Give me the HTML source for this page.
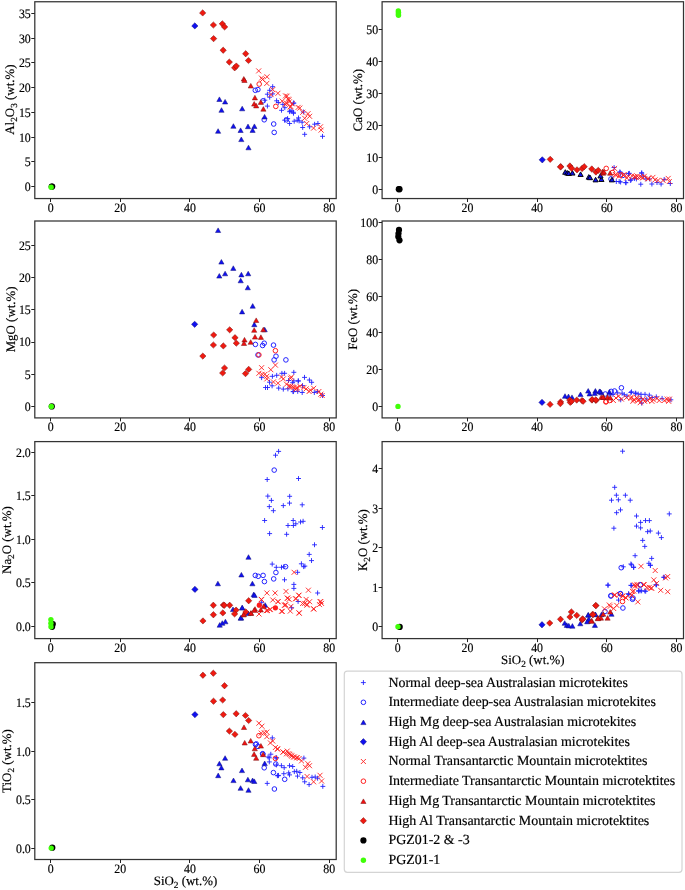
<!DOCTYPE html>
<html><head><meta charset="utf-8"><style>
html,body{margin:0;padding:0;background:#fff;width:685px;height:890px;overflow:hidden}
svg text{font-family:"Liberation Serif", serif;fill:#000;stroke:#000;stroke-width:0.18px;text-rendering:geometricPrecision}
</style></head><body>
<svg width="685" height="890" viewBox="0 0 685 890" style="position:absolute;left:0;top:0;will-change:transform">
<rect width="685" height="890" fill="#fff"/>
<rect x="34.8" y="1.75" width="301.4" height="196.8" fill="none" stroke="#333" stroke-width="1.25"/>
<line x1="31.299999999999997" y1="186.50" x2="34.8" y2="186.50" stroke="#222" stroke-width="1"/>
<text transform="translate(30.80,191.00) scale(0.92,1)" text-anchor="end" font-size="12.9">0</text>
<line x1="31.299999999999997" y1="161.50" x2="34.8" y2="161.50" stroke="#222" stroke-width="1"/>
<text transform="translate(30.80,166.27) scale(0.92,1)" text-anchor="end" font-size="12.9">5</text>
<line x1="31.299999999999997" y1="137.50" x2="34.8" y2="137.50" stroke="#222" stroke-width="1"/>
<text transform="translate(30.80,141.54) scale(0.92,1)" text-anchor="end" font-size="12.9">10</text>
<line x1="31.299999999999997" y1="112.50" x2="34.8" y2="112.50" stroke="#222" stroke-width="1"/>
<text transform="translate(30.80,116.81) scale(0.92,1)" text-anchor="end" font-size="12.9">15</text>
<line x1="31.299999999999997" y1="87.50" x2="34.8" y2="87.50" stroke="#222" stroke-width="1"/>
<text transform="translate(30.80,92.08) scale(0.92,1)" text-anchor="end" font-size="12.9">20</text>
<line x1="31.299999999999997" y1="62.50" x2="34.8" y2="62.50" stroke="#222" stroke-width="1"/>
<text transform="translate(30.80,67.35) scale(0.92,1)" text-anchor="end" font-size="12.9">25</text>
<line x1="31.299999999999997" y1="38.50" x2="34.8" y2="38.50" stroke="#222" stroke-width="1"/>
<text transform="translate(30.80,42.62) scale(0.92,1)" text-anchor="end" font-size="12.9">30</text>
<line x1="31.299999999999997" y1="13.50" x2="34.8" y2="13.50" stroke="#222" stroke-width="1"/>
<text transform="translate(30.80,17.89) scale(0.92,1)" text-anchor="end" font-size="12.9">35</text>
<line x1="50.50" y1="198.5" x2="50.50" y2="202.0" stroke="#222" stroke-width="1"/>
<text transform="translate(50.60,211.70) scale(0.92,1)" text-anchor="middle" font-size="12.9">0</text>
<line x1="120.50" y1="198.5" x2="120.50" y2="202.0" stroke="#222" stroke-width="1"/>
<text transform="translate(120.24,211.70) scale(0.92,1)" text-anchor="middle" font-size="12.9">20</text>
<line x1="189.50" y1="198.5" x2="189.50" y2="202.0" stroke="#222" stroke-width="1"/>
<text transform="translate(189.88,211.70) scale(0.92,1)" text-anchor="middle" font-size="12.9">40</text>
<line x1="259.50" y1="198.5" x2="259.50" y2="202.0" stroke="#222" stroke-width="1"/>
<text transform="translate(259.52,211.70) scale(0.92,1)" text-anchor="middle" font-size="12.9">60</text>
<line x1="329.50" y1="198.5" x2="329.50" y2="202.0" stroke="#222" stroke-width="1"/>
<text transform="translate(329.16,211.70) scale(0.92,1)" text-anchor="middle" font-size="12.9">80</text>
<text transform="translate(14.3,99.6) rotate(-90)" text-anchor="middle" font-size="12.9">Al<tspan font-size="9.3" dy="3">2</tspan><tspan dy="-3">O</tspan><tspan font-size="9.3" dy="3">3</tspan><tspan dy="-3"> (wt.%)</tspan></text>
<rect x="382.1" y="1.75" width="301.4" height="196.8" fill="none" stroke="#333" stroke-width="1.25"/>
<line x1="378.6" y1="189.50" x2="382.1" y2="189.50" stroke="#222" stroke-width="1"/>
<text transform="translate(378.10,193.80) scale(0.92,1)" text-anchor="end" font-size="12.9">0</text>
<line x1="378.6" y1="157.50" x2="382.1" y2="157.50" stroke="#222" stroke-width="1"/>
<text transform="translate(378.10,161.80) scale(0.92,1)" text-anchor="end" font-size="12.9">10</text>
<line x1="378.6" y1="125.50" x2="382.1" y2="125.50" stroke="#222" stroke-width="1"/>
<text transform="translate(378.10,129.80) scale(0.92,1)" text-anchor="end" font-size="12.9">20</text>
<line x1="378.6" y1="93.50" x2="382.1" y2="93.50" stroke="#222" stroke-width="1"/>
<text transform="translate(378.10,97.80) scale(0.92,1)" text-anchor="end" font-size="12.9">30</text>
<line x1="378.6" y1="61.50" x2="382.1" y2="61.50" stroke="#222" stroke-width="1"/>
<text transform="translate(378.10,65.80) scale(0.92,1)" text-anchor="end" font-size="12.9">40</text>
<line x1="378.6" y1="29.50" x2="382.1" y2="29.50" stroke="#222" stroke-width="1"/>
<text transform="translate(378.10,33.80) scale(0.92,1)" text-anchor="end" font-size="12.9">50</text>
<line x1="397.50" y1="198.5" x2="397.50" y2="202.0" stroke="#222" stroke-width="1"/>
<text transform="translate(397.70,211.70) scale(0.92,1)" text-anchor="middle" font-size="12.9">0</text>
<line x1="467.50" y1="198.5" x2="467.50" y2="202.0" stroke="#222" stroke-width="1"/>
<text transform="translate(467.40,211.70) scale(0.92,1)" text-anchor="middle" font-size="12.9">20</text>
<line x1="537.50" y1="198.5" x2="537.50" y2="202.0" stroke="#222" stroke-width="1"/>
<text transform="translate(537.10,211.70) scale(0.92,1)" text-anchor="middle" font-size="12.9">40</text>
<line x1="606.50" y1="198.5" x2="606.50" y2="202.0" stroke="#222" stroke-width="1"/>
<text transform="translate(606.80,211.70) scale(0.92,1)" text-anchor="middle" font-size="12.9">60</text>
<line x1="676.50" y1="198.5" x2="676.50" y2="202.0" stroke="#222" stroke-width="1"/>
<text transform="translate(676.50,211.70) scale(0.92,1)" text-anchor="middle" font-size="12.9">80</text>
<text transform="translate(362.3,100.1) rotate(-90)" text-anchor="middle" font-size="12.9">CaO (wt.%)</text>
<rect x="34.8" y="221.0" width="301.4" height="196.9" fill="none" stroke="#333" stroke-width="1.25"/>
<line x1="31.299999999999997" y1="406.50" x2="34.8" y2="406.50" stroke="#222" stroke-width="1"/>
<text transform="translate(30.80,411.00) scale(0.92,1)" text-anchor="end" font-size="12.9">0</text>
<line x1="31.299999999999997" y1="374.50" x2="34.8" y2="374.50" stroke="#222" stroke-width="1"/>
<text transform="translate(30.80,378.74) scale(0.92,1)" text-anchor="end" font-size="12.9">5</text>
<line x1="31.299999999999997" y1="342.50" x2="34.8" y2="342.50" stroke="#222" stroke-width="1"/>
<text transform="translate(30.80,346.48) scale(0.92,1)" text-anchor="end" font-size="12.9">10</text>
<line x1="31.299999999999997" y1="309.50" x2="34.8" y2="309.50" stroke="#222" stroke-width="1"/>
<text transform="translate(30.80,314.22) scale(0.92,1)" text-anchor="end" font-size="12.9">15</text>
<line x1="31.299999999999997" y1="277.50" x2="34.8" y2="277.50" stroke="#222" stroke-width="1"/>
<text transform="translate(30.80,281.96) scale(0.92,1)" text-anchor="end" font-size="12.9">20</text>
<line x1="31.299999999999997" y1="245.50" x2="34.8" y2="245.50" stroke="#222" stroke-width="1"/>
<text transform="translate(30.80,249.70) scale(0.92,1)" text-anchor="end" font-size="12.9">25</text>
<line x1="50.50" y1="417.9" x2="50.50" y2="421.4" stroke="#222" stroke-width="1"/>
<text transform="translate(50.60,431.10) scale(0.92,1)" text-anchor="middle" font-size="12.9">0</text>
<line x1="120.50" y1="417.9" x2="120.50" y2="421.4" stroke="#222" stroke-width="1"/>
<text transform="translate(120.24,431.10) scale(0.92,1)" text-anchor="middle" font-size="12.9">20</text>
<line x1="189.50" y1="417.9" x2="189.50" y2="421.4" stroke="#222" stroke-width="1"/>
<text transform="translate(189.88,431.10) scale(0.92,1)" text-anchor="middle" font-size="12.9">40</text>
<line x1="259.50" y1="417.9" x2="259.50" y2="421.4" stroke="#222" stroke-width="1"/>
<text transform="translate(259.52,431.10) scale(0.92,1)" text-anchor="middle" font-size="12.9">60</text>
<line x1="329.50" y1="417.9" x2="329.50" y2="421.4" stroke="#222" stroke-width="1"/>
<text transform="translate(329.16,431.10) scale(0.92,1)" text-anchor="middle" font-size="12.9">80</text>
<text transform="translate(14.8,319.4) rotate(-90)" text-anchor="middle" font-size="12.9">MgO (wt.%)</text>
<rect x="382.1" y="221.0" width="301.4" height="196.9" fill="none" stroke="#333" stroke-width="1.25"/>
<line x1="378.6" y1="406.50" x2="382.1" y2="406.50" stroke="#222" stroke-width="1"/>
<text transform="translate(378.10,411.00) scale(0.92,1)" text-anchor="end" font-size="12.9">0</text>
<line x1="378.6" y1="369.50" x2="382.1" y2="369.50" stroke="#222" stroke-width="1"/>
<text transform="translate(378.10,374.18) scale(0.92,1)" text-anchor="end" font-size="12.9">20</text>
<line x1="378.6" y1="332.50" x2="382.1" y2="332.50" stroke="#222" stroke-width="1"/>
<text transform="translate(378.10,337.36) scale(0.92,1)" text-anchor="end" font-size="12.9">40</text>
<line x1="378.6" y1="296.50" x2="382.1" y2="296.50" stroke="#222" stroke-width="1"/>
<text transform="translate(378.10,300.54) scale(0.92,1)" text-anchor="end" font-size="12.9">60</text>
<line x1="378.6" y1="259.50" x2="382.1" y2="259.50" stroke="#222" stroke-width="1"/>
<text transform="translate(378.10,263.72) scale(0.92,1)" text-anchor="end" font-size="12.9">80</text>
<line x1="378.6" y1="222.50" x2="382.1" y2="222.50" stroke="#222" stroke-width="1"/>
<text transform="translate(378.10,226.90) scale(0.92,1)" text-anchor="end" font-size="12.9">100</text>
<line x1="397.50" y1="417.9" x2="397.50" y2="421.4" stroke="#222" stroke-width="1"/>
<text transform="translate(397.70,431.10) scale(0.92,1)" text-anchor="middle" font-size="12.9">0</text>
<line x1="467.50" y1="417.9" x2="467.50" y2="421.4" stroke="#222" stroke-width="1"/>
<text transform="translate(467.40,431.10) scale(0.92,1)" text-anchor="middle" font-size="12.9">20</text>
<line x1="537.50" y1="417.9" x2="537.50" y2="421.4" stroke="#222" stroke-width="1"/>
<text transform="translate(537.10,431.10) scale(0.92,1)" text-anchor="middle" font-size="12.9">40</text>
<line x1="606.50" y1="417.9" x2="606.50" y2="421.4" stroke="#222" stroke-width="1"/>
<text transform="translate(606.80,431.10) scale(0.92,1)" text-anchor="middle" font-size="12.9">60</text>
<line x1="676.50" y1="417.9" x2="676.50" y2="421.4" stroke="#222" stroke-width="1"/>
<text transform="translate(676.50,431.10) scale(0.92,1)" text-anchor="middle" font-size="12.9">80</text>
<text transform="translate(357.2,319.4) rotate(-90)" text-anchor="middle" font-size="12.9">FeO (wt.%)</text>
<rect x="34.8" y="441.6" width="301.4" height="197.0" fill="none" stroke="#333" stroke-width="1.25"/>
<line x1="31.299999999999997" y1="626.50" x2="34.8" y2="626.50" stroke="#222" stroke-width="1"/>
<text transform="translate(30.80,631.00) scale(0.92,1)" text-anchor="end" font-size="12.9">0.0</text>
<line x1="31.299999999999997" y1="582.50" x2="34.8" y2="582.50" stroke="#222" stroke-width="1"/>
<text transform="translate(30.80,587.38) scale(0.92,1)" text-anchor="end" font-size="12.9">0.5</text>
<line x1="31.299999999999997" y1="539.50" x2="34.8" y2="539.50" stroke="#222" stroke-width="1"/>
<text transform="translate(30.80,543.75) scale(0.92,1)" text-anchor="end" font-size="12.9">1.0</text>
<line x1="31.299999999999997" y1="495.50" x2="34.8" y2="495.50" stroke="#222" stroke-width="1"/>
<text transform="translate(30.80,500.12) scale(0.92,1)" text-anchor="end" font-size="12.9">1.5</text>
<line x1="31.299999999999997" y1="452.50" x2="34.8" y2="452.50" stroke="#222" stroke-width="1"/>
<text transform="translate(30.80,456.50) scale(0.92,1)" text-anchor="end" font-size="12.9">2.0</text>
<line x1="50.50" y1="638.6" x2="50.50" y2="642.1" stroke="#222" stroke-width="1"/>
<text transform="translate(50.60,651.80) scale(0.92,1)" text-anchor="middle" font-size="12.9">0</text>
<line x1="120.50" y1="638.6" x2="120.50" y2="642.1" stroke="#222" stroke-width="1"/>
<text transform="translate(120.24,651.80) scale(0.92,1)" text-anchor="middle" font-size="12.9">20</text>
<line x1="189.50" y1="638.6" x2="189.50" y2="642.1" stroke="#222" stroke-width="1"/>
<text transform="translate(189.88,651.80) scale(0.92,1)" text-anchor="middle" font-size="12.9">40</text>
<line x1="259.50" y1="638.6" x2="259.50" y2="642.1" stroke="#222" stroke-width="1"/>
<text transform="translate(259.52,651.80) scale(0.92,1)" text-anchor="middle" font-size="12.9">60</text>
<line x1="329.50" y1="638.6" x2="329.50" y2="642.1" stroke="#222" stroke-width="1"/>
<text transform="translate(329.16,651.80) scale(0.92,1)" text-anchor="middle" font-size="12.9">80</text>
<text transform="translate(11.2,540.1) rotate(-90)" text-anchor="middle" font-size="12.9">Na<tspan font-size="9.3" dy="3">2</tspan><tspan dy="-3">O (wt.%)</tspan></text>
<rect x="382.1" y="441.6" width="301.4" height="197.0" fill="none" stroke="#333" stroke-width="1.25"/>
<line x1="378.6" y1="626.50" x2="382.1" y2="626.50" stroke="#222" stroke-width="1"/>
<text transform="translate(378.10,631.00) scale(0.92,1)" text-anchor="end" font-size="12.9">0</text>
<line x1="378.6" y1="587.50" x2="382.1" y2="587.50" stroke="#222" stroke-width="1"/>
<text transform="translate(378.10,591.52) scale(0.92,1)" text-anchor="end" font-size="12.9">1</text>
<line x1="378.6" y1="547.50" x2="382.1" y2="547.50" stroke="#222" stroke-width="1"/>
<text transform="translate(378.10,552.05) scale(0.92,1)" text-anchor="end" font-size="12.9">2</text>
<line x1="378.6" y1="508.50" x2="382.1" y2="508.50" stroke="#222" stroke-width="1"/>
<text transform="translate(378.10,512.58) scale(0.92,1)" text-anchor="end" font-size="12.9">3</text>
<line x1="378.6" y1="468.50" x2="382.1" y2="468.50" stroke="#222" stroke-width="1"/>
<text transform="translate(378.10,473.10) scale(0.92,1)" text-anchor="end" font-size="12.9">4</text>
<line x1="397.50" y1="638.6" x2="397.50" y2="642.1" stroke="#222" stroke-width="1"/>
<text transform="translate(397.70,651.80) scale(0.92,1)" text-anchor="middle" font-size="12.9">0</text>
<line x1="467.50" y1="638.6" x2="467.50" y2="642.1" stroke="#222" stroke-width="1"/>
<text transform="translate(467.40,651.80) scale(0.92,1)" text-anchor="middle" font-size="12.9">20</text>
<line x1="537.50" y1="638.6" x2="537.50" y2="642.1" stroke="#222" stroke-width="1"/>
<text transform="translate(537.10,651.80) scale(0.92,1)" text-anchor="middle" font-size="12.9">40</text>
<line x1="606.50" y1="638.6" x2="606.50" y2="642.1" stroke="#222" stroke-width="1"/>
<text transform="translate(606.80,651.80) scale(0.92,1)" text-anchor="middle" font-size="12.9">60</text>
<line x1="676.50" y1="638.6" x2="676.50" y2="642.1" stroke="#222" stroke-width="1"/>
<text transform="translate(676.50,651.80) scale(0.92,1)" text-anchor="middle" font-size="12.9">80</text>
<text transform="translate(367.1,540.1) rotate(-90)" text-anchor="middle" font-size="12.9">K<tspan font-size="9.3" dy="3">2</tspan><tspan dy="-3">O (wt.%)</tspan></text>
<rect x="34.8" y="662.7" width="301.4" height="196.8" fill="none" stroke="#333" stroke-width="1.25"/>
<line x1="31.299999999999997" y1="848.50" x2="34.8" y2="848.50" stroke="#222" stroke-width="1"/>
<text transform="translate(30.80,852.90) scale(0.92,1)" text-anchor="end" font-size="12.9">0.0</text>
<line x1="31.299999999999997" y1="799.50" x2="34.8" y2="799.50" stroke="#222" stroke-width="1"/>
<text transform="translate(30.80,804.33) scale(0.92,1)" text-anchor="end" font-size="12.9">0.5</text>
<line x1="31.299999999999997" y1="751.50" x2="34.8" y2="751.50" stroke="#222" stroke-width="1"/>
<text transform="translate(30.80,755.77) scale(0.92,1)" text-anchor="end" font-size="12.9">1.0</text>
<line x1="31.299999999999997" y1="702.50" x2="34.8" y2="702.50" stroke="#222" stroke-width="1"/>
<text transform="translate(30.80,707.21) scale(0.92,1)" text-anchor="end" font-size="12.9">1.5</text>
<line x1="50.50" y1="859.5" x2="50.50" y2="863.0" stroke="#222" stroke-width="1"/>
<text transform="translate(50.60,872.70) scale(0.92,1)" text-anchor="middle" font-size="12.9">0</text>
<line x1="120.50" y1="859.5" x2="120.50" y2="863.0" stroke="#222" stroke-width="1"/>
<text transform="translate(120.24,872.70) scale(0.92,1)" text-anchor="middle" font-size="12.9">20</text>
<line x1="189.50" y1="859.5" x2="189.50" y2="863.0" stroke="#222" stroke-width="1"/>
<text transform="translate(189.88,872.70) scale(0.92,1)" text-anchor="middle" font-size="12.9">40</text>
<line x1="259.50" y1="859.5" x2="259.50" y2="863.0" stroke="#222" stroke-width="1"/>
<text transform="translate(259.52,872.70) scale(0.92,1)" text-anchor="middle" font-size="12.9">60</text>
<line x1="329.50" y1="859.5" x2="329.50" y2="863.0" stroke="#222" stroke-width="1"/>
<text transform="translate(329.16,872.70) scale(0.92,1)" text-anchor="middle" font-size="12.9">80</text>
<text transform="translate(11.2,761.1) rotate(-90)" text-anchor="middle" font-size="12.9">TiO<tspan font-size="9.3" dy="3">2</tspan><tspan dy="-3"> (wt.%)</tspan></text>
<text x="185.5" y="884.9" text-anchor="middle" font-size="12.9">SiO<tspan font-size="9.3" dy="3">2</tspan><tspan dy="-3"> (wt.%)</tspan></text>
<text x="532.8" y="663.8" text-anchor="middle" font-size="12.9">SiO<tspan font-size="9.3" dy="3">2</tspan><tspan dy="-3"> (wt.%)</tspan></text>
<circle cx="52.2" cy="186.5" r="3.1" fill="#000"/>
<circle cx="51.7" cy="186.6" r="3.1" fill="#000"/>
<circle cx="51.1" cy="187.3" r="2.7" fill="#40ff08"/>
<path d="M270.2 86.7h4.9M272.7 84.2v4.9" stroke="#2222ff" stroke-width="0.9" fill="none"/>
<path d="M267.2 90.3h4.9M269.7 87.8v4.9" stroke="#2222ff" stroke-width="0.9" fill="none"/>
<path d="M264.9 94.2h4.9M267.4 91.8v4.9" stroke="#2222ff" stroke-width="0.9" fill="none"/>
<path d="M270.2 93.9h4.9M272.7 91.5v4.9" stroke="#2222ff" stroke-width="0.9" fill="none"/>
<path d="M267.2 97.2h4.9M269.7 94.8v4.9" stroke="#2222ff" stroke-width="0.9" fill="none"/>
<path d="M262.4 100.2h4.9M264.8 97.8v4.9" stroke="#2222ff" stroke-width="0.9" fill="none"/>
<path d="M264.9 106.1h4.9M267.4 103.6v4.9" stroke="#2222ff" stroke-width="0.9" fill="none"/>
<path d="M274.2 100.8h4.9M276.6 98.3v4.9" stroke="#2222ff" stroke-width="0.9" fill="none"/>
<path d="M275.9 102.5h4.9M278.3 100.0v4.9" stroke="#2222ff" stroke-width="0.9" fill="none"/>
<path d="M280.4 104.4h4.9M282.9 102.0v4.9" stroke="#2222ff" stroke-width="0.9" fill="none"/>
<path d="M279.1 110.3h4.9M281.5 107.8v4.9" stroke="#2222ff" stroke-width="0.9" fill="none"/>
<path d="M282.4 107.7h4.9M284.8 105.2v4.9" stroke="#2222ff" stroke-width="0.9" fill="none"/>
<path d="M287.7 111.0h4.9M290.1 108.5v4.9" stroke="#2222ff" stroke-width="0.9" fill="none"/>
<path d="M290.9 103.1h4.9M293.4 100.6v4.9" stroke="#2222ff" stroke-width="0.9" fill="none"/>
<path d="M290.9 112.3h4.9M293.4 109.8v4.9" stroke="#2222ff" stroke-width="0.9" fill="none"/>
<path d="M291.4 103.1h4.9M293.9 100.6v4.9" stroke="#2222ff" stroke-width="0.9" fill="none"/>
<path d="M287.2 111.7h4.9M289.6 109.2v4.9" stroke="#2222ff" stroke-width="0.9" fill="none"/>
<path d="M289.4 111.0h4.9M291.9 108.5v4.9" stroke="#2222ff" stroke-width="0.9" fill="none"/>
<path d="M291.1 113.3h4.9M293.5 110.8v4.9" stroke="#2222ff" stroke-width="0.9" fill="none"/>
<path d="M285.2 118.6h4.9M287.6 116.1v4.9" stroke="#2222ff" stroke-width="0.9" fill="none"/>
<path d="M287.2 123.5h4.9M289.6 121.0v4.9" stroke="#2222ff" stroke-width="0.9" fill="none"/>
<path d="M291.8 121.2h4.9M294.2 118.8v4.9" stroke="#2222ff" stroke-width="0.9" fill="none"/>
<path d="M294.8 120.2h4.9M297.2 117.8v4.9" stroke="#2222ff" stroke-width="0.9" fill="none"/>
<path d="M296.1 117.9h4.9M298.5 115.5v4.9" stroke="#2222ff" stroke-width="0.9" fill="none"/>
<path d="M296.7 120.9h4.9M299.1 118.5v4.9" stroke="#2222ff" stroke-width="0.9" fill="none"/>
<path d="M299.7 122.2h4.9M302.1 119.8v4.9" stroke="#2222ff" stroke-width="0.9" fill="none"/>
<path d="M300.2 127.5h4.9M302.7 125.0v4.9" stroke="#2222ff" stroke-width="0.9" fill="none"/>
<path d="M300.9 112.0h4.9M303.4 109.5v4.9" stroke="#2222ff" stroke-width="0.9" fill="none"/>
<path d="M307.2 126.8h4.9M309.6 124.3v4.9" stroke="#2222ff" stroke-width="0.9" fill="none"/>
<path d="M312.2 124.2h4.9M314.6 121.8v4.9" stroke="#2222ff" stroke-width="0.9" fill="none"/>
<path d="M315.4 123.5h4.9M317.9 121.0v4.9" stroke="#2222ff" stroke-width="0.9" fill="none"/>
<path d="M302.2 134.3h4.9M304.7 131.9v4.9" stroke="#2222ff" stroke-width="0.9" fill="none"/>
<path d="M320.1 136.3h4.9M322.5 133.9v4.9" stroke="#2222ff" stroke-width="0.9" fill="none"/>
<path d="M282.2 120.2h4.9M284.6 117.8v4.9" stroke="#2222ff" stroke-width="0.9" fill="none"/>
<circle cx="255.3" cy="90.3" r="2.3" stroke="#2222ff" stroke-width="1" fill="none"/>
<circle cx="257.9" cy="89.6" r="2.3" stroke="#2222ff" stroke-width="1" fill="none"/>
<circle cx="263.1" cy="100.8" r="2.3" stroke="#2222ff" stroke-width="1" fill="none"/>
<circle cx="264.2" cy="119.8" r="2.3" stroke="#2222ff" stroke-width="1" fill="none"/>
<circle cx="273.7" cy="124.0" r="2.3" stroke="#2222ff" stroke-width="1" fill="none"/>
<circle cx="274.2" cy="132.4" r="2.3" stroke="#2222ff" stroke-width="1" fill="none"/>
<circle cx="286.5" cy="119.8" r="2.3" stroke="#2222ff" stroke-width="1" fill="none"/>
<path d="M219.4 96.9L222.0 101.5L216.8 101.5Z" fill="#1010f0" stroke="#10107a" stroke-width="0.5"/>
<path d="M225.1 99.4L227.7 104.0L222.5 104.0Z" fill="#1010f0" stroke="#10107a" stroke-width="0.5"/>
<path d="M221.5 107.7L224.1 112.3L218.9 112.3Z" fill="#1010f0" stroke="#10107a" stroke-width="0.5"/>
<path d="M242.2 106.2L244.8 110.8L239.6 110.8Z" fill="#1010f0" stroke="#10107a" stroke-width="0.5"/>
<path d="M233.4 123.7L236.0 128.3L230.8 128.3Z" fill="#1010f0" stroke="#10107a" stroke-width="0.5"/>
<path d="M218.1 128.7L220.7 133.3L215.5 133.3Z" fill="#1010f0" stroke="#10107a" stroke-width="0.5"/>
<path d="M240.6 127.9L243.2 132.5L238.0 132.5Z" fill="#1010f0" stroke="#10107a" stroke-width="0.5"/>
<path d="M248.0 124.1L250.6 128.7L245.4 128.7Z" fill="#1010f0" stroke="#10107a" stroke-width="0.5"/>
<path d="M254.4 123.9L257.0 128.5L251.8 128.5Z" fill="#1010f0" stroke="#10107a" stroke-width="0.5"/>
<path d="M252.6 127.8L255.2 132.4L250.0 132.4Z" fill="#1010f0" stroke="#10107a" stroke-width="0.5"/>
<path d="M241.3 137.0L243.9 141.6L238.7 141.6Z" fill="#1010f0" stroke="#10107a" stroke-width="0.5"/>
<path d="M248.5 145.2L251.1 149.8L245.9 149.8Z" fill="#1010f0" stroke="#10107a" stroke-width="0.5"/>
<path d="M264.6 114.4L267.2 119.0L262.0 119.0Z" fill="#1010f0" stroke="#10107a" stroke-width="0.5"/>
<path d="M194.8 22.8L198.0 25.9L194.8 29.0L191.7 25.9Z" fill="#1010f0" stroke="#10107a" stroke-width="0.5"/>
<path d="M256.2 68.4l5.0 5.0M256.2 73.4l5.0 -5.0" stroke="#ff2020" stroke-width="0.9" fill="none"/>
<path d="M259.0 75.6l5.0 5.0M259.0 80.6l5.0 -5.0" stroke="#ff2020" stroke-width="0.9" fill="none"/>
<path d="M260.0 77.0l5.0 5.0M260.0 82.0l5.0 -5.0" stroke="#ff2020" stroke-width="0.9" fill="none"/>
<path d="M264.5 74.3l5.0 5.0M264.5 79.3l5.0 -5.0" stroke="#ff2020" stroke-width="0.9" fill="none"/>
<path d="M264.3 80.9l5.0 5.0M264.3 85.9l5.0 -5.0" stroke="#ff2020" stroke-width="0.9" fill="none"/>
<path d="M270.2 87.1l5.0 5.0M270.2 92.1l5.0 -5.0" stroke="#ff2020" stroke-width="0.9" fill="none"/>
<path d="M275.4 90.8l5.0 5.0M275.4 95.8l5.0 -5.0" stroke="#ff2020" stroke-width="0.9" fill="none"/>
<path d="M268.5 92.1l5.0 5.0M268.5 97.1l5.0 -5.0" stroke="#ff2020" stroke-width="0.9" fill="none"/>
<path d="M283.0 93.4l5.0 5.0M283.0 98.4l5.0 -5.0" stroke="#ff2020" stroke-width="0.9" fill="none"/>
<path d="M285.6 96.7l5.0 5.0M285.6 101.7l5.0 -5.0" stroke="#ff2020" stroke-width="0.9" fill="none"/>
<path d="M279.7 98.6l5.0 5.0M279.7 103.6l5.0 -5.0" stroke="#ff2020" stroke-width="0.9" fill="none"/>
<path d="M286.9 99.3l5.0 5.0M286.9 104.3l5.0 -5.0" stroke="#ff2020" stroke-width="0.9" fill="none"/>
<path d="M283.0 101.9l5.0 5.0M283.0 106.9l5.0 -5.0" stroke="#ff2020" stroke-width="0.9" fill="none"/>
<path d="M288.2 103.9l5.0 5.0M288.2 108.9l5.0 -5.0" stroke="#ff2020" stroke-width="0.9" fill="none"/>
<path d="M284.5 93.7l5.0 5.0M284.5 98.7l5.0 -5.0" stroke="#ff2020" stroke-width="0.9" fill="none"/>
<path d="M286.4 97.4l5.0 5.0M286.4 102.4l5.0 -5.0" stroke="#ff2020" stroke-width="0.9" fill="none"/>
<path d="M289.7 101.3l5.0 5.0M289.7 106.3l5.0 -5.0" stroke="#ff2020" stroke-width="0.9" fill="none"/>
<path d="M287.8 104.6l5.0 5.0M287.8 109.6l5.0 -5.0" stroke="#ff2020" stroke-width="0.9" fill="none"/>
<path d="M295.6 104.9l5.0 5.0M295.6 109.9l5.0 -5.0" stroke="#ff2020" stroke-width="0.9" fill="none"/>
<path d="M297.3 105.6l5.0 5.0M297.3 110.6l5.0 -5.0" stroke="#ff2020" stroke-width="0.9" fill="none"/>
<path d="M300.2 109.8l5.0 5.0M300.2 114.8l5.0 -5.0" stroke="#ff2020" stroke-width="0.9" fill="none"/>
<path d="M305.5 111.2l5.0 5.0M305.5 116.2l5.0 -5.0" stroke="#ff2020" stroke-width="0.9" fill="none"/>
<path d="M307.1 113.8l5.0 5.0M307.1 118.8l5.0 -5.0" stroke="#ff2020" stroke-width="0.9" fill="none"/>
<path d="M302.2 115.8l5.0 5.0M302.2 120.8l5.0 -5.0" stroke="#ff2020" stroke-width="0.9" fill="none"/>
<path d="M304.2 121.0l5.0 5.0M304.2 126.0l5.0 -5.0" stroke="#ff2020" stroke-width="0.9" fill="none"/>
<path d="M311.1 125.6l5.0 5.0M311.1 130.6l5.0 -5.0" stroke="#ff2020" stroke-width="0.9" fill="none"/>
<path d="M318.0 124.3l5.0 5.0M318.0 129.3l5.0 -5.0" stroke="#ff2020" stroke-width="0.9" fill="none"/>
<path d="M318.6 127.6l5.0 5.0M318.6 132.6l5.0 -5.0" stroke="#ff2020" stroke-width="0.9" fill="none"/>
<path d="M283.8 100.6l5.0 5.0M283.8 105.6l5.0 -5.0" stroke="#ff2020" stroke-width="0.9" fill="none"/>
<circle cx="259.2" cy="84.1" r="2.3" stroke="#ff2020" stroke-width="1" fill="none"/>
<circle cx="275.8" cy="106.4" r="2.3" stroke="#ff2020" stroke-width="1" fill="none"/>
<path d="M243.8 76.5L246.4 81.1L241.2 81.1Z" fill="#f01010" stroke="#7a1010" stroke-width="0.5"/>
<path d="M244.5 77.9L247.1 82.5L241.9 82.5Z" fill="#f01010" stroke="#7a1010" stroke-width="0.5"/>
<path d="M250.8 83.4L253.4 88.0L248.2 88.0Z" fill="#f01010" stroke="#7a1010" stroke-width="0.5"/>
<path d="M254.9 95.3L257.5 99.9L252.3 99.9Z" fill="#f01010" stroke="#7a1010" stroke-width="0.5"/>
<path d="M254.2 101.5L256.8 106.1L251.6 106.1Z" fill="#f01010" stroke="#7a1010" stroke-width="0.5"/>
<path d="M256.2 103.3L258.8 107.9L253.6 107.9Z" fill="#f01010" stroke="#7a1010" stroke-width="0.5"/>
<path d="M260.8 99.8L263.4 104.4L258.2 104.4Z" fill="#f01010" stroke="#7a1010" stroke-width="0.5"/>
<path d="M263.4 106.6L266.0 111.2L260.8 111.2Z" fill="#f01010" stroke="#7a1010" stroke-width="0.5"/>
<path d="M202.7 9.8L205.8 12.9L202.7 16.1L199.5 12.9Z" fill="#f01a10" stroke="#7a1010" stroke-width="0.5"/>
<path d="M213.4 21.9L216.6 25.0L213.4 28.1L210.2 25.0Z" fill="#f01a10" stroke="#7a1010" stroke-width="0.5"/>
<path d="M222.3 20.7L225.5 23.8L222.3 26.9L219.2 23.8Z" fill="#f01a10" stroke="#7a1010" stroke-width="0.5"/>
<path d="M224.6 23.8L227.8 26.9L224.6 30.0L221.4 26.9Z" fill="#f01a10" stroke="#7a1010" stroke-width="0.5"/>
<path d="M213.6 35.5L216.8 38.6L213.6 41.8L210.4 38.6Z" fill="#f01a10" stroke="#7a1010" stroke-width="0.5"/>
<path d="M223.2 47.1L226.3 50.2L223.2 53.4L220.0 50.2Z" fill="#f01a10" stroke="#7a1010" stroke-width="0.5"/>
<path d="M245.7 50.6L248.8 53.7L245.7 56.9L242.5 53.7Z" fill="#f01a10" stroke="#7a1010" stroke-width="0.5"/>
<path d="M248.5 57.4L251.7 60.5L248.5 63.6L245.3 60.5Z" fill="#f01a10" stroke="#7a1010" stroke-width="0.5"/>
<path d="M229.3 59.0L232.5 62.1L229.3 65.2L226.2 62.1Z" fill="#f01a10" stroke="#7a1010" stroke-width="0.5"/>
<path d="M234.7 64.6L237.8 67.8L234.7 71.0L231.5 67.8Z" fill="#f01a10" stroke="#7a1010" stroke-width="0.5"/>
<path d="M236.3 62.9L239.5 66.1L236.3 69.2L233.2 66.1Z" fill="#f01a10" stroke="#7a1010" stroke-width="0.5"/>
<circle cx="398.8" cy="189.2" r="3.1" fill="#000"/>
<circle cx="399.5" cy="189.2" r="3.1" fill="#000"/>
<circle cx="398.3" cy="10.9" r="2.7" fill="#40ff08"/>
<circle cx="398.5" cy="12.5" r="2.7" fill="#40ff08"/>
<circle cx="398.4" cy="14.0" r="2.7" fill="#40ff08"/>
<circle cx="398.5" cy="15.2" r="2.7" fill="#40ff08"/>
<path d="M611.6 167.5h4.9M614.1 165.1v4.9" stroke="#2222ff" stroke-width="0.9" fill="none"/>
<path d="M617.3 171.9h4.9M619.8 169.5v4.9" stroke="#2222ff" stroke-width="0.9" fill="none"/>
<path d="M613.8 181.5h4.9M616.3 179.1v4.9" stroke="#2222ff" stroke-width="0.9" fill="none"/>
<path d="M618.1 182.0h4.9M620.6 179.6v4.9" stroke="#2222ff" stroke-width="0.9" fill="none"/>
<path d="M623.4 182.8h4.9M625.9 180.4v4.9" stroke="#2222ff" stroke-width="0.9" fill="none"/>
<path d="M626.0 173.6h4.9M628.5 171.2v4.9" stroke="#2222ff" stroke-width="0.9" fill="none"/>
<path d="M628.8 179.8h4.9M631.2 177.4v4.9" stroke="#2222ff" stroke-width="0.9" fill="none"/>
<path d="M633.9 178.9h4.9M636.4 176.5v4.9" stroke="#2222ff" stroke-width="0.9" fill="none"/>
<path d="M639.2 173.2h4.9M641.7 170.8v4.9" stroke="#2222ff" stroke-width="0.9" fill="none"/>
<path d="M638.3 184.2h4.9M640.8 181.8v4.9" stroke="#2222ff" stroke-width="0.9" fill="none"/>
<path d="M643.5 178.9h4.9M646.0 176.5v4.9" stroke="#2222ff" stroke-width="0.9" fill="none"/>
<path d="M647.0 178.9h4.9M649.5 176.5v4.9" stroke="#2222ff" stroke-width="0.9" fill="none"/>
<path d="M617.8 172.3h4.9M620.2 169.9v4.9" stroke="#2222ff" stroke-width="0.9" fill="none"/>
<path d="M616.8 181.5h4.9M619.2 179.1v4.9" stroke="#2222ff" stroke-width="0.9" fill="none"/>
<path d="M626.9 173.3h4.9M629.4 170.9v4.9" stroke="#2222ff" stroke-width="0.9" fill="none"/>
<path d="M627.9 180.4h4.9M630.4 178.0v4.9" stroke="#2222ff" stroke-width="0.9" fill="none"/>
<path d="M632.0 178.4h4.9M634.5 176.0v4.9" stroke="#2222ff" stroke-width="0.9" fill="none"/>
<path d="M639.2 172.8h4.9M641.7 170.4v4.9" stroke="#2222ff" stroke-width="0.9" fill="none"/>
<path d="M641.2 176.3h4.9M643.7 173.9v4.9" stroke="#2222ff" stroke-width="0.9" fill="none"/>
<path d="M649.4 184.0h4.9M651.9 181.6v4.9" stroke="#2222ff" stroke-width="0.9" fill="none"/>
<path d="M654.5 182.5h4.9M657.0 180.1v4.9" stroke="#2222ff" stroke-width="0.9" fill="none"/>
<path d="M658.6 184.0h4.9M661.1 181.6v4.9" stroke="#2222ff" stroke-width="0.9" fill="none"/>
<path d="M661.8 179.4h4.9M664.2 177.0v4.9" stroke="#2222ff" stroke-width="0.9" fill="none"/>
<path d="M667.8 183.5h4.9M670.3 181.1v4.9" stroke="#2222ff" stroke-width="0.9" fill="none"/>
<path d="M623.3 182.5h4.9M625.8 180.1v4.9" stroke="#2222ff" stroke-width="0.9" fill="none"/>
<circle cx="611.0" cy="178.9" r="2.3" stroke="#2222ff" stroke-width="1" fill="none"/>
<circle cx="622.8" cy="175.4" r="2.3" stroke="#2222ff" stroke-width="1" fill="none"/>
<path d="M565.3 169.7L567.9 174.3L562.7 174.3Z" fill="#1010f0" stroke="#000" stroke-width="0.9" stroke-linejoin="round"/>
<path d="M567.3 170.5L569.9 175.1L564.7 175.1Z" fill="#1010f0" stroke="#000" stroke-width="0.9" stroke-linejoin="round"/>
<path d="M568.8 170.9L571.4 175.5L566.2 175.5Z" fill="#1010f0" stroke="#000" stroke-width="0.9" stroke-linejoin="round"/>
<path d="M572.4 170.5L575.0 175.1L569.8 175.1Z" fill="#1010f0" stroke="#000" stroke-width="0.9" stroke-linejoin="round"/>
<path d="M580.6 171.9L583.2 176.5L578.0 176.5Z" fill="#1010f0" stroke="#000" stroke-width="0.9" stroke-linejoin="round"/>
<path d="M588.8 174.6L591.4 179.2L586.2 179.2Z" fill="#1010f0" stroke="#000" stroke-width="0.9" stroke-linejoin="round"/>
<path d="M590.0 175.1L592.6 179.7L587.4 179.7Z" fill="#1010f0" stroke="#000" stroke-width="0.9" stroke-linejoin="round"/>
<path d="M595.6 177.3L598.2 181.9L593.0 181.9Z" fill="#1010f0" stroke="#000" stroke-width="0.9" stroke-linejoin="round"/>
<path d="M601.4 176.9L604.0 181.5L598.8 181.5Z" fill="#1010f0" stroke="#000" stroke-width="0.9" stroke-linejoin="round"/>
<path d="M600.5 173.4L603.1 178.0L597.9 178.0Z" fill="#1010f0" stroke="#000" stroke-width="0.9" stroke-linejoin="round"/>
<path d="M611.9 177.3L614.5 181.9L609.3 181.9Z" fill="#1010f0" stroke="#000" stroke-width="0.9" stroke-linejoin="round"/>
<path d="M542.3 156.7L545.4 159.8L542.3 163.0L539.1 159.8Z" fill="#1010f0" stroke="#10107a" stroke-width="0.5"/>
<path d="M612.0 165.9l5.0 5.0M612.0 170.9l5.0 -5.0" stroke="#ff2020" stroke-width="0.9" fill="none"/>
<path d="M612.9 172.0l5.0 5.0M612.9 177.0l5.0 -5.0" stroke="#ff2020" stroke-width="0.9" fill="none"/>
<path d="M616.4 173.8l5.0 5.0M616.4 178.8l5.0 -5.0" stroke="#ff2020" stroke-width="0.9" fill="none"/>
<path d="M621.7 172.0l5.0 5.0M621.7 177.0l5.0 -5.0" stroke="#ff2020" stroke-width="0.9" fill="none"/>
<path d="M624.3 175.5l5.0 5.0M624.3 180.5l5.0 -5.0" stroke="#ff2020" stroke-width="0.9" fill="none"/>
<path d="M629.5 173.3l5.0 5.0M629.5 178.3l5.0 -5.0" stroke="#ff2020" stroke-width="0.9" fill="none"/>
<path d="M632.2 174.2l5.0 5.0M632.2 179.2l5.0 -5.0" stroke="#ff2020" stroke-width="0.9" fill="none"/>
<path d="M634.8 173.8l5.0 5.0M634.8 178.8l5.0 -5.0" stroke="#ff2020" stroke-width="0.9" fill="none"/>
<path d="M638.3 174.6l5.0 5.0M638.3 179.6l5.0 -5.0" stroke="#ff2020" stroke-width="0.9" fill="none"/>
<path d="M641.8 173.8l5.0 5.0M641.8 178.8l5.0 -5.0" stroke="#ff2020" stroke-width="0.9" fill="none"/>
<path d="M645.3 176.4l5.0 5.0M645.3 181.4l5.0 -5.0" stroke="#ff2020" stroke-width="0.9" fill="none"/>
<path d="M613.6 172.8l5.0 5.0M613.6 177.8l5.0 -5.0" stroke="#ff2020" stroke-width="0.9" fill="none"/>
<path d="M620.8 172.8l5.0 5.0M620.8 177.8l5.0 -5.0" stroke="#ff2020" stroke-width="0.9" fill="none"/>
<path d="M625.9 173.8l5.0 5.0M625.9 178.8l5.0 -5.0" stroke="#ff2020" stroke-width="0.9" fill="none"/>
<path d="M633.0 174.4l5.0 5.0M633.0 179.4l5.0 -5.0" stroke="#ff2020" stroke-width="0.9" fill="none"/>
<path d="M636.1 174.9l5.0 5.0M636.1 179.9l5.0 -5.0" stroke="#ff2020" stroke-width="0.9" fill="none"/>
<path d="M640.2 175.4l5.0 5.0M640.2 180.4l5.0 -5.0" stroke="#ff2020" stroke-width="0.9" fill="none"/>
<path d="M646.3 175.9l5.0 5.0M646.3 180.9l5.0 -5.0" stroke="#ff2020" stroke-width="0.9" fill="none"/>
<path d="M650.4 174.9l5.0 5.0M650.4 179.9l5.0 -5.0" stroke="#ff2020" stroke-width="0.9" fill="none"/>
<path d="M652.5 177.4l5.0 5.0M652.5 182.4l5.0 -5.0" stroke="#ff2020" stroke-width="0.9" fill="none"/>
<path d="M655.5 177.9l5.0 5.0M655.5 182.9l5.0 -5.0" stroke="#ff2020" stroke-width="0.9" fill="none"/>
<path d="M660.6 177.9l5.0 5.0M660.6 182.9l5.0 -5.0" stroke="#ff2020" stroke-width="0.9" fill="none"/>
<path d="M665.7 175.9l5.0 5.0M665.7 180.9l5.0 -5.0" stroke="#ff2020" stroke-width="0.9" fill="none"/>
<path d="M666.8 179.0l5.0 5.0M666.8 184.0l5.0 -5.0" stroke="#ff2020" stroke-width="0.9" fill="none"/>
<circle cx="606.2" cy="168.4" r="2.3" stroke="#ff2020" stroke-width="1" fill="none"/>
<circle cx="612.5" cy="172.5" r="2.3" stroke="#ff2020" stroke-width="1" fill="none"/>
<circle cx="620.5" cy="175.0" r="2.3" stroke="#ff2020" stroke-width="1" fill="none"/>
<path d="M602.7 169.0L605.3 173.6L600.1 173.6Z" fill="#f01010" stroke="#7a1010" stroke-width="0.5"/>
<path d="M603.1 170.7L605.7 175.3L600.5 175.3Z" fill="#f01010" stroke="#7a1010" stroke-width="0.5"/>
<path d="M610.1 170.7L612.7 175.3L607.5 175.3Z" fill="#f01010" stroke="#7a1010" stroke-width="0.5"/>
<path d="M604.0 169.6L606.6 174.2L601.4 174.2Z" fill="#f01010" stroke="#7a1010" stroke-width="0.5"/>
<path d="M550.2 156.2L553.4 159.3L550.2 162.5L547.1 159.3Z" fill="#f01a10" stroke="#7a1010" stroke-width="0.5"/>
<path d="M560.7 163.5L563.9 166.7L560.7 169.8L557.6 166.7Z" fill="#f01a10" stroke="#7a1010" stroke-width="0.5"/>
<path d="M569.9 162.8L573.0 166.0L569.9 169.2L566.8 166.0Z" fill="#f01a10" stroke="#7a1010" stroke-width="0.5"/>
<path d="M571.7 165.2L574.9 168.3L571.7 171.5L568.6 168.3Z" fill="#f01a10" stroke="#7a1010" stroke-width="0.5"/>
<path d="M577.0 166.7L580.1 169.8L577.0 173.0L573.9 169.8Z" fill="#f01a10" stroke="#7a1010" stroke-width="0.5"/>
<path d="M582.1 165.3L585.2 168.5L582.1 171.7L579.0 168.5Z" fill="#f01a10" stroke="#7a1010" stroke-width="0.5"/>
<path d="M584.2 163.5L587.4 166.7L584.2 169.8L581.1 166.7Z" fill="#f01a10" stroke="#7a1010" stroke-width="0.5"/>
<path d="M591.8 165.8L594.9 169.0L591.8 172.2L588.6 169.0Z" fill="#f01a10" stroke="#7a1010" stroke-width="0.5"/>
<path d="M595.9 168.9L599.0 172.1L595.9 175.2L592.8 172.1Z" fill="#f01a10" stroke="#7a1010" stroke-width="0.5"/>
<path d="M598.3 167.2L601.4 170.3L598.3 173.5L595.1 170.3Z" fill="#f01a10" stroke="#7a1010" stroke-width="0.5"/>
<path d="M560.5 163.8L563.6 166.9L560.5 170.1L557.4 166.9Z" fill="#f01a10" stroke="#7a1010" stroke-width="0.5"/>
<circle cx="51.8" cy="406.4" r="3.1" fill="#000"/>
<circle cx="51.3" cy="406.5" r="2.7" fill="#40ff08"/>
<path d="M259.2 377.6h4.9M261.6 375.2v4.9" stroke="#2222ff" stroke-width="0.9" fill="none"/>
<path d="M269.9 376.3h4.9M272.4 373.9v4.9" stroke="#2222ff" stroke-width="0.9" fill="none"/>
<path d="M274.2 375.3h4.9M276.7 372.9v4.9" stroke="#2222ff" stroke-width="0.9" fill="none"/>
<path d="M279.4 373.3h4.9M281.9 370.9v4.9" stroke="#2222ff" stroke-width="0.9" fill="none"/>
<path d="M282.2 373.3h4.9M284.6 370.9v4.9" stroke="#2222ff" stroke-width="0.9" fill="none"/>
<path d="M291.4 372.3h4.9M293.8 369.9v4.9" stroke="#2222ff" stroke-width="0.9" fill="none"/>
<path d="M267.1 382.2h4.9M269.5 379.8v4.9" stroke="#2222ff" stroke-width="0.9" fill="none"/>
<path d="M263.1 387.5h4.9M265.5 385.1v4.9" stroke="#2222ff" stroke-width="0.9" fill="none"/>
<path d="M265.1 387.5h4.9M267.5 385.1v4.9" stroke="#2222ff" stroke-width="0.9" fill="none"/>
<path d="M269.7 385.8h4.9M272.1 383.4v4.9" stroke="#2222ff" stroke-width="0.9" fill="none"/>
<path d="M276.2 388.1h4.9M278.7 385.7v4.9" stroke="#2222ff" stroke-width="0.9" fill="none"/>
<path d="M280.9 389.1h4.9M283.3 386.7v4.9" stroke="#2222ff" stroke-width="0.9" fill="none"/>
<path d="M285.4 388.8h4.9M287.9 386.4v4.9" stroke="#2222ff" stroke-width="0.9" fill="none"/>
<path d="M291.4 380.9h4.9M293.8 378.4v4.9" stroke="#2222ff" stroke-width="0.9" fill="none"/>
<path d="M295.9 380.9h4.9M298.4 378.4v4.9" stroke="#2222ff" stroke-width="0.9" fill="none"/>
<path d="M290.7 391.7h4.9M293.1 389.2v4.9" stroke="#2222ff" stroke-width="0.9" fill="none"/>
<path d="M295.2 391.4h4.9M297.7 388.9v4.9" stroke="#2222ff" stroke-width="0.9" fill="none"/>
<path d="M302.1 377.4h4.9M304.5 374.9v4.9" stroke="#2222ff" stroke-width="0.9" fill="none"/>
<path d="M306.9 380.0h4.9M309.4 377.6v4.9" stroke="#2222ff" stroke-width="0.9" fill="none"/>
<path d="M309.2 382.3h4.9M311.7 379.9v4.9" stroke="#2222ff" stroke-width="0.9" fill="none"/>
<path d="M295.8 381.0h4.9M298.2 378.6v4.9" stroke="#2222ff" stroke-width="0.9" fill="none"/>
<path d="M290.2 382.7h4.9M292.6 380.2v4.9" stroke="#2222ff" stroke-width="0.9" fill="none"/>
<path d="M290.9 391.5h4.9M293.3 389.1v4.9" stroke="#2222ff" stroke-width="0.9" fill="none"/>
<path d="M299.8 392.5h4.9M302.2 390.1v4.9" stroke="#2222ff" stroke-width="0.9" fill="none"/>
<path d="M311.9 392.5h4.9M314.3 390.1v4.9" stroke="#2222ff" stroke-width="0.9" fill="none"/>
<path d="M315.2 391.5h4.9M317.6 389.1v4.9" stroke="#2222ff" stroke-width="0.9" fill="none"/>
<path d="M320.1 395.5h4.9M322.5 393.1v4.9" stroke="#2222ff" stroke-width="0.9" fill="none"/>
<path d="M300.1 385.6h4.9M302.5 383.2v4.9" stroke="#2222ff" stroke-width="0.9" fill="none"/>
<path d="M286.1 380.5h4.9M288.5 378.1v4.9" stroke="#2222ff" stroke-width="0.9" fill="none"/>
<circle cx="273.5" cy="345.1" r="2.3" stroke="#2222ff" stroke-width="1" fill="none"/>
<circle cx="258.0" cy="354.9" r="2.3" stroke="#2222ff" stroke-width="1" fill="none"/>
<circle cx="276.0" cy="356.2" r="2.3" stroke="#2222ff" stroke-width="1" fill="none"/>
<circle cx="274.1" cy="359.9" r="2.3" stroke="#2222ff" stroke-width="1" fill="none"/>
<circle cx="285.9" cy="359.9" r="2.3" stroke="#2222ff" stroke-width="1" fill="none"/>
<circle cx="255.4" cy="344.4" r="2.3" stroke="#2222ff" stroke-width="1" fill="none"/>
<circle cx="264.2" cy="343.2" r="2.3" stroke="#2222ff" stroke-width="1" fill="none"/>
<circle cx="262.6" cy="345.5" r="2.3" stroke="#2222ff" stroke-width="1" fill="none"/>
<path d="M218.1 227.9L220.7 232.5L215.5 232.5Z" fill="#1010f0" stroke="#10107a" stroke-width="0.5"/>
<path d="M221.4 259.5L224.0 264.1L218.8 264.1Z" fill="#1010f0" stroke="#10107a" stroke-width="0.5"/>
<path d="M233.3 265.8L235.9 270.4L230.7 270.4Z" fill="#1010f0" stroke="#10107a" stroke-width="0.5"/>
<path d="M219.3 273.5L221.9 278.1L216.7 278.1Z" fill="#1010f0" stroke="#10107a" stroke-width="0.5"/>
<path d="M225.1 271.2L227.7 275.8L222.5 275.8Z" fill="#1010f0" stroke="#10107a" stroke-width="0.5"/>
<path d="M241.4 272.3L244.0 276.9L238.8 276.9Z" fill="#1010f0" stroke="#10107a" stroke-width="0.5"/>
<path d="M248.2 271.2L250.8 275.8L245.6 275.8Z" fill="#1010f0" stroke="#10107a" stroke-width="0.5"/>
<path d="M240.7 278.2L243.3 282.8L238.1 282.8Z" fill="#1010f0" stroke="#10107a" stroke-width="0.5"/>
<path d="M247.8 285.2L250.4 289.8L245.2 289.8Z" fill="#1010f0" stroke="#10107a" stroke-width="0.5"/>
<path d="M252.7 303.6L255.3 308.2L250.1 308.2Z" fill="#1010f0" stroke="#10107a" stroke-width="0.5"/>
<path d="M242.1 309.3L244.7 313.9L239.5 313.9Z" fill="#1010f0" stroke="#10107a" stroke-width="0.5"/>
<path d="M254.3 322.1L256.9 326.7L251.7 326.7Z" fill="#1010f0" stroke="#10107a" stroke-width="0.5"/>
<path d="M264.7 327.2L267.3 331.8L262.1 331.8Z" fill="#1010f0" stroke="#10107a" stroke-width="0.5"/>
<path d="M194.7 321.2L197.8 324.3L194.7 327.4L191.5 324.3Z" fill="#1010f0" stroke="#10107a" stroke-width="0.5"/>
<path d="M272.9 362.6l5.0 5.0M272.9 367.6l5.0 -5.0" stroke="#ff2020" stroke-width="0.9" fill="none"/>
<path d="M259.1 365.2l5.0 5.0M259.1 370.2l5.0 -5.0" stroke="#ff2020" stroke-width="0.9" fill="none"/>
<path d="M268.3 367.2l5.0 5.0M268.3 372.2l5.0 -5.0" stroke="#ff2020" stroke-width="0.9" fill="none"/>
<path d="M256.4 370.8l5.0 5.0M256.4 375.8l5.0 -5.0" stroke="#ff2020" stroke-width="0.9" fill="none"/>
<path d="M259.7 371.8l5.0 5.0M259.7 376.8l5.0 -5.0" stroke="#ff2020" stroke-width="0.9" fill="none"/>
<path d="M262.4 371.8l5.0 5.0M262.4 376.8l5.0 -5.0" stroke="#ff2020" stroke-width="0.9" fill="none"/>
<path d="M264.3 373.8l5.0 5.0M264.3 378.8l5.0 -5.0" stroke="#ff2020" stroke-width="0.9" fill="none"/>
<path d="M264.3 376.4l5.0 5.0M264.3 381.4l5.0 -5.0" stroke="#ff2020" stroke-width="0.9" fill="none"/>
<path d="M270.9 379.4l5.0 5.0M270.9 384.4l5.0 -5.0" stroke="#ff2020" stroke-width="0.9" fill="none"/>
<path d="M275.5 380.7l5.0 5.0M275.5 385.7l5.0 -5.0" stroke="#ff2020" stroke-width="0.9" fill="none"/>
<path d="M280.8 376.4l5.0 5.0M280.8 381.4l5.0 -5.0" stroke="#ff2020" stroke-width="0.9" fill="none"/>
<path d="M288.0 375.8l5.0 5.0M288.0 380.8l5.0 -5.0" stroke="#ff2020" stroke-width="0.9" fill="none"/>
<path d="M284.0 381.7l5.0 5.0M284.0 386.7l5.0 -5.0" stroke="#ff2020" stroke-width="0.9" fill="none"/>
<path d="M286.7 383.6l5.0 5.0M286.7 388.6l5.0 -5.0" stroke="#ff2020" stroke-width="0.9" fill="none"/>
<path d="M290.0 384.3l5.0 5.0M290.0 389.3l5.0 -5.0" stroke="#ff2020" stroke-width="0.9" fill="none"/>
<path d="M294.5 385.0l5.0 5.0M294.5 390.0l5.0 -5.0" stroke="#ff2020" stroke-width="0.9" fill="none"/>
<path d="M293.2 386.9l5.0 5.0M293.2 391.9l5.0 -5.0" stroke="#ff2020" stroke-width="0.9" fill="none"/>
<path d="M288.8 374.6l5.0 5.0M288.8 379.6l5.0 -5.0" stroke="#ff2020" stroke-width="0.9" fill="none"/>
<path d="M288.2 383.8l5.0 5.0M288.2 388.8l5.0 -5.0" stroke="#ff2020" stroke-width="0.9" fill="none"/>
<path d="M291.4 385.1l5.0 5.0M291.4 390.1l5.0 -5.0" stroke="#ff2020" stroke-width="0.9" fill="none"/>
<path d="M294.1 385.8l5.0 5.0M294.1 390.8l5.0 -5.0" stroke="#ff2020" stroke-width="0.9" fill="none"/>
<path d="M297.4 383.8l5.0 5.0M297.4 388.8l5.0 -5.0" stroke="#ff2020" stroke-width="0.9" fill="none"/>
<path d="M301.3 385.1l5.0 5.0M301.3 390.1l5.0 -5.0" stroke="#ff2020" stroke-width="0.9" fill="none"/>
<path d="M303.6 386.4l5.0 5.0M303.6 391.4l5.0 -5.0" stroke="#ff2020" stroke-width="0.9" fill="none"/>
<path d="M306.6 389.0l5.0 5.0M306.6 394.0l5.0 -5.0" stroke="#ff2020" stroke-width="0.9" fill="none"/>
<path d="M307.9 387.7l5.0 5.0M307.9 392.7l5.0 -5.0" stroke="#ff2020" stroke-width="0.9" fill="none"/>
<path d="M311.2 385.8l5.0 5.0M311.2 390.8l5.0 -5.0" stroke="#ff2020" stroke-width="0.9" fill="none"/>
<path d="M316.4 389.0l5.0 5.0M316.4 394.0l5.0 -5.0" stroke="#ff2020" stroke-width="0.9" fill="none"/>
<path d="M318.4 391.7l5.0 5.0M318.4 396.7l5.0 -5.0" stroke="#ff2020" stroke-width="0.9" fill="none"/>
<path d="M319.7 393.0l5.0 5.0M319.7 398.0l5.0 -5.0" stroke="#ff2020" stroke-width="0.9" fill="none"/>
<path d="M279.0 374.5l5.0 5.0M279.0 379.5l5.0 -5.0" stroke="#ff2020" stroke-width="0.9" fill="none"/>
<circle cx="275.4" cy="350.7" r="2.3" stroke="#ff2020" stroke-width="1" fill="none"/>
<circle cx="258.9" cy="354.9" r="2.3" stroke="#ff2020" stroke-width="1" fill="none"/>
<path d="M256.2 317.9L258.8 322.5L253.6 322.5Z" fill="#f01010" stroke="#7a1010" stroke-width="0.5"/>
<path d="M254.2 327.7L256.8 332.3L251.6 332.3Z" fill="#f01010" stroke="#7a1010" stroke-width="0.5"/>
<path d="M263.3 327.2L265.9 331.8L260.7 331.8Z" fill="#f01010" stroke="#7a1010" stroke-width="0.5"/>
<path d="M255.0 334.5L257.6 339.1L252.4 339.1Z" fill="#f01010" stroke="#7a1010" stroke-width="0.5"/>
<path d="M260.9 334.8L263.5 339.4L258.3 339.4Z" fill="#f01010" stroke="#7a1010" stroke-width="0.5"/>
<path d="M244.5 337.4L247.1 342.0L241.9 342.0Z" fill="#f01010" stroke="#7a1010" stroke-width="0.5"/>
<path d="M244.0 340.9L246.6 345.5L241.4 345.5Z" fill="#f01010" stroke="#7a1010" stroke-width="0.5"/>
<path d="M250.7 339.7L253.3 344.3L248.1 344.3Z" fill="#f01010" stroke="#7a1010" stroke-width="0.5"/>
<path d="M229.7 326.7L232.8 329.8L229.7 332.9L226.5 329.8Z" fill="#f01a10" stroke="#7a1010" stroke-width="0.5"/>
<path d="M213.7 331.9L216.8 335.0L213.7 338.1L210.5 335.0Z" fill="#f01a10" stroke="#7a1010" stroke-width="0.5"/>
<path d="M235.0 334.6L238.2 337.7L235.0 340.8L231.8 337.7Z" fill="#f01a10" stroke="#7a1010" stroke-width="0.5"/>
<path d="M236.3 340.1L239.5 343.2L236.3 346.3L233.2 343.2Z" fill="#f01a10" stroke="#7a1010" stroke-width="0.5"/>
<path d="M213.4 341.9L216.6 345.0L213.4 348.1L210.2 345.0Z" fill="#f01a10" stroke="#7a1010" stroke-width="0.5"/>
<path d="M223.3 342.8L226.5 345.9L223.3 349.0L220.2 345.9Z" fill="#f01a10" stroke="#7a1010" stroke-width="0.5"/>
<path d="M202.8 353.0L206.0 356.1L202.8 359.2L199.7 356.1Z" fill="#f01a10" stroke="#7a1010" stroke-width="0.5"/>
<path d="M224.5 364.9L227.7 368.0L224.5 371.1L221.3 368.0Z" fill="#f01a10" stroke="#7a1010" stroke-width="0.5"/>
<path d="M222.7 369.9L225.8 373.0L222.7 376.1L219.5 373.0Z" fill="#f01a10" stroke="#7a1010" stroke-width="0.5"/>
<path d="M248.7 366.2L251.8 369.4L248.7 372.5L245.5 369.4Z" fill="#f01a10" stroke="#7a1010" stroke-width="0.5"/>
<path d="M245.5 370.5L248.7 373.6L245.5 376.8L242.3 373.6Z" fill="#f01a10" stroke="#7a1010" stroke-width="0.5"/>
<circle cx="399.0" cy="229.9" r="3.1" fill="#000"/>
<circle cx="398.5" cy="233.5" r="3.1" fill="#000"/>
<circle cx="398.3" cy="236.7" r="3.1" fill="#000"/>
<circle cx="399.5" cy="240.3" r="3.1" fill="#000"/>
<circle cx="398.0" cy="406.4" r="2.7" fill="#40ff08"/>
<path d="M615.2 392.9h4.9M617.7 390.4v4.9" stroke="#2222ff" stroke-width="0.9" fill="none"/>
<path d="M619.6 393.2h4.9M622.1 390.8v4.9" stroke="#2222ff" stroke-width="0.9" fill="none"/>
<path d="M621.8 394.7h4.9M624.3 392.2v4.9" stroke="#2222ff" stroke-width="0.9" fill="none"/>
<path d="M628.4 392.5h4.9M630.9 390.1v4.9" stroke="#2222ff" stroke-width="0.9" fill="none"/>
<path d="M632.8 393.2h4.9M635.3 390.8v4.9" stroke="#2222ff" stroke-width="0.9" fill="none"/>
<path d="M635.8 394.0h4.9M638.2 391.6v4.9" stroke="#2222ff" stroke-width="0.9" fill="none"/>
<path d="M618.2 399.8h4.9M620.7 397.4v4.9" stroke="#2222ff" stroke-width="0.9" fill="none"/>
<path d="M610.5 394.5h4.9M613.0 392.1v4.9" stroke="#2222ff" stroke-width="0.9" fill="none"/>
<path d="M629.0 391.8h4.9M631.5 389.4v4.9" stroke="#2222ff" stroke-width="0.9" fill="none"/>
<path d="M633.3 393.2h4.9M635.8 390.8v4.9" stroke="#2222ff" stroke-width="0.9" fill="none"/>
<path d="M638.5 394.3h4.9M641.0 391.9v4.9" stroke="#2222ff" stroke-width="0.9" fill="none"/>
<path d="M642.5 394.3h4.9M645.0 391.9v4.9" stroke="#2222ff" stroke-width="0.9" fill="none"/>
<path d="M646.8 395.1h4.9M649.3 392.7v4.9" stroke="#2222ff" stroke-width="0.9" fill="none"/>
<path d="M653.8 396.9h4.9M656.3 394.4v4.9" stroke="#2222ff" stroke-width="0.9" fill="none"/>
<path d="M659.6 398.4h4.9M662.1 395.9v4.9" stroke="#2222ff" stroke-width="0.9" fill="none"/>
<path d="M668.4 399.8h4.9M670.9 397.4v4.9" stroke="#2222ff" stroke-width="0.9" fill="none"/>
<path d="M638.5 398.4h4.9M641.0 395.9v4.9" stroke="#2222ff" stroke-width="0.9" fill="none"/>
<path d="M639.2 403.1h4.9M641.7 400.7v4.9" stroke="#2222ff" stroke-width="0.9" fill="none"/>
<path d="M644.3 399.1h4.9M646.8 396.7v4.9" stroke="#2222ff" stroke-width="0.9" fill="none"/>
<path d="M624.5 396.0h4.9M627.0 393.6v4.9" stroke="#2222ff" stroke-width="0.9" fill="none"/>
<path d="M649.5 397.5h4.9M652.0 395.1v4.9" stroke="#2222ff" stroke-width="0.9" fill="none"/>
<path d="M607.5 395.0h4.9M610.0 392.6v4.9" stroke="#2222ff" stroke-width="0.9" fill="none"/>
<circle cx="621.4" cy="387.8" r="2.3" stroke="#2222ff" stroke-width="1" fill="none"/>
<circle cx="611.2" cy="391.4" r="2.3" stroke="#2222ff" stroke-width="1" fill="none"/>
<circle cx="605.3" cy="394.0" r="2.3" stroke="#2222ff" stroke-width="1" fill="none"/>
<circle cx="614.5" cy="391.0" r="2.3" stroke="#2222ff" stroke-width="1" fill="none"/>
<path d="M565.0 393.7L567.6 398.3L562.4 398.3Z" fill="#1010f0" stroke="#10107a" stroke-width="0.5"/>
<path d="M568.5 394.1L571.1 398.7L565.9 398.7Z" fill="#1010f0" stroke="#10107a" stroke-width="0.5"/>
<path d="M572.0 394.9L574.6 399.5L569.4 399.5Z" fill="#1010f0" stroke="#10107a" stroke-width="0.5"/>
<path d="M580.5 392.0L583.1 396.6L577.9 396.6Z" fill="#1010f0" stroke="#10107a" stroke-width="0.5"/>
<path d="M588.2 388.5L590.8 393.1L585.6 393.1Z" fill="#1010f0" stroke="#10107a" stroke-width="0.5"/>
<path d="M589.6 391.4L592.2 396.0L587.0 396.0Z" fill="#1010f0" stroke="#10107a" stroke-width="0.5"/>
<path d="M595.4 388.5L598.0 393.1L592.8 393.1Z" fill="#1010f0" stroke="#10107a" stroke-width="0.5"/>
<path d="M594.8 390.8L597.4 395.4L592.2 395.4Z" fill="#1010f0" stroke="#10107a" stroke-width="0.5"/>
<path d="M600.1 389.0L602.7 393.6L597.5 393.6Z" fill="#1010f0" stroke="#10107a" stroke-width="0.5"/>
<path d="M601.2 390.2L603.8 394.8L598.6 394.8Z" fill="#1010f0" stroke="#10107a" stroke-width="0.5"/>
<path d="M609.4 389.6L612.0 394.2L606.8 394.2Z" fill="#1010f0" stroke="#10107a" stroke-width="0.5"/>
<path d="M599.5 388.9L602.1 393.5L596.9 393.5Z" fill="#1010f0" stroke="#10107a" stroke-width="0.5"/>
<path d="M542.0 399.2L545.1 402.4L542.0 405.5L538.9 402.4Z" fill="#1010f0" stroke="#10107a" stroke-width="0.5"/>
<path d="M610.9 398.0l5.0 5.0M610.9 403.0l5.0 -5.0" stroke="#ff2020" stroke-width="0.9" fill="none"/>
<path d="M616.0 393.7l5.0 5.0M616.0 398.7l5.0 -5.0" stroke="#ff2020" stroke-width="0.9" fill="none"/>
<path d="M618.9 396.6l5.0 5.0M618.9 401.6l5.0 -5.0" stroke="#ff2020" stroke-width="0.9" fill="none"/>
<path d="M624.0 395.1l5.0 5.0M624.0 400.1l5.0 -5.0" stroke="#ff2020" stroke-width="0.9" fill="none"/>
<path d="M628.4 395.9l5.0 5.0M628.4 400.9l5.0 -5.0" stroke="#ff2020" stroke-width="0.9" fill="none"/>
<path d="M631.3 397.3l5.0 5.0M631.3 402.3l5.0 -5.0" stroke="#ff2020" stroke-width="0.9" fill="none"/>
<path d="M634.2 395.1l5.0 5.0M634.2 400.1l5.0 -5.0" stroke="#ff2020" stroke-width="0.9" fill="none"/>
<path d="M636.4 397.3l5.0 5.0M636.4 402.3l5.0 -5.0" stroke="#ff2020" stroke-width="0.9" fill="none"/>
<path d="M629.0 394.4l5.0 5.0M629.0 399.4l5.0 -5.0" stroke="#ff2020" stroke-width="0.9" fill="none"/>
<path d="M630.4 398.8l5.0 5.0M630.4 403.8l5.0 -5.0" stroke="#ff2020" stroke-width="0.9" fill="none"/>
<path d="M634.8 395.9l5.0 5.0M634.8 400.9l5.0 -5.0" stroke="#ff2020" stroke-width="0.9" fill="none"/>
<path d="M637.7 400.2l5.0 5.0M637.7 405.2l5.0 -5.0" stroke="#ff2020" stroke-width="0.9" fill="none"/>
<path d="M640.6 396.6l5.0 5.0M640.6 401.6l5.0 -5.0" stroke="#ff2020" stroke-width="0.9" fill="none"/>
<path d="M645.0 398.0l5.0 5.0M645.0 403.0l5.0 -5.0" stroke="#ff2020" stroke-width="0.9" fill="none"/>
<path d="M647.9 395.9l5.0 5.0M647.9 400.9l5.0 -5.0" stroke="#ff2020" stroke-width="0.9" fill="none"/>
<path d="M650.9 397.3l5.0 5.0M650.9 402.3l5.0 -5.0" stroke="#ff2020" stroke-width="0.9" fill="none"/>
<path d="M654.5 395.9l5.0 5.0M654.5 400.9l5.0 -5.0" stroke="#ff2020" stroke-width="0.9" fill="none"/>
<path d="M656.7 398.0l5.0 5.0M656.7 403.0l5.0 -5.0" stroke="#ff2020" stroke-width="0.9" fill="none"/>
<path d="M661.8 398.0l5.0 5.0M661.8 403.0l5.0 -5.0" stroke="#ff2020" stroke-width="0.9" fill="none"/>
<path d="M664.7 396.6l5.0 5.0M664.7 401.6l5.0 -5.0" stroke="#ff2020" stroke-width="0.9" fill="none"/>
<path d="M666.2 398.8l5.0 5.0M666.2 403.8l5.0 -5.0" stroke="#ff2020" stroke-width="0.9" fill="none"/>
<path d="M666.9 396.6l5.0 5.0M666.9 401.6l5.0 -5.0" stroke="#ff2020" stroke-width="0.9" fill="none"/>
<path d="M635.5 398.0l5.0 5.0M635.5 403.0l5.0 -5.0" stroke="#ff2020" stroke-width="0.9" fill="none"/>
<path d="M642.1 398.8l5.0 5.0M642.1 403.8l5.0 -5.0" stroke="#ff2020" stroke-width="0.9" fill="none"/>
<path d="M649.4 398.8l5.0 5.0M649.4 403.8l5.0 -5.0" stroke="#ff2020" stroke-width="0.9" fill="none"/>
<path d="M613.5 395.5l5.0 5.0M613.5 400.5l5.0 -5.0" stroke="#ff2020" stroke-width="0.9" fill="none"/>
<circle cx="605.9" cy="401.9" r="2.3" stroke="#ff2020" stroke-width="1" fill="none"/>
<circle cx="606.1" cy="401.6" r="2.3" stroke="#ff2020" stroke-width="1" fill="none"/>
<circle cx="609.5" cy="400.5" r="2.3" stroke="#ff2020" stroke-width="1" fill="none"/>
<path d="M601.2 394.9L603.8 399.5L598.6 399.5Z" fill="#f01010" stroke="#7a1010" stroke-width="0.5"/>
<path d="M603.6 394.9L606.2 399.5L601.0 399.5Z" fill="#f01010" stroke="#7a1010" stroke-width="0.5"/>
<path d="M603.1 394.7L605.7 399.3L600.5 399.3Z" fill="#f01010" stroke="#7a1010" stroke-width="0.5"/>
<path d="M607.5 394.7L610.1 399.3L604.9 399.3Z" fill="#f01010" stroke="#7a1010" stroke-width="0.5"/>
<path d="M610.4 395.5L613.0 400.1L607.8 400.1Z" fill="#f01010" stroke="#7a1010" stroke-width="0.5"/>
<path d="M550.1 401.2L553.2 404.4L550.1 407.5L547.0 404.4Z" fill="#f01a10" stroke="#7a1010" stroke-width="0.5"/>
<path d="M560.6 398.8L563.8 401.9L560.6 405.0L557.5 401.9Z" fill="#f01a10" stroke="#7a1010" stroke-width="0.5"/>
<path d="M560.4 400.5L563.5 403.6L560.4 406.8L557.2 403.6Z" fill="#f01a10" stroke="#7a1010" stroke-width="0.5"/>
<path d="M569.7 397.0L572.9 400.1L569.7 403.2L566.6 400.1Z" fill="#f01a10" stroke="#7a1010" stroke-width="0.5"/>
<path d="M570.3 399.2L573.4 402.4L570.3 405.5L567.1 402.4Z" fill="#f01a10" stroke="#7a1010" stroke-width="0.5"/>
<path d="M571.5 398.2L574.6 401.3L571.5 404.4L568.4 401.3Z" fill="#f01a10" stroke="#7a1010" stroke-width="0.5"/>
<path d="M576.7 397.0L579.9 400.1L576.7 403.2L573.6 400.1Z" fill="#f01a10" stroke="#7a1010" stroke-width="0.5"/>
<path d="M582.0 397.4L585.1 400.5L582.0 403.6L578.9 400.5Z" fill="#f01a10" stroke="#7a1010" stroke-width="0.5"/>
<path d="M583.1 398.2L586.2 401.3L583.1 404.4L580.0 401.3Z" fill="#f01a10" stroke="#7a1010" stroke-width="0.5"/>
<path d="M591.9 397.0L595.0 400.1L591.9 403.2L588.8 400.1Z" fill="#f01a10" stroke="#7a1010" stroke-width="0.5"/>
<path d="M596.0 397.4L599.1 400.5L596.0 403.6L592.9 400.5Z" fill="#f01a10" stroke="#7a1010" stroke-width="0.5"/>
<path d="M592.2 396.4L595.4 399.5L592.2 402.6L589.1 399.5Z" fill="#f01a10" stroke="#7a1010" stroke-width="0.5"/>
<path d="M595.8 396.7L598.9 399.8L595.8 402.9L592.6 399.8Z" fill="#f01a10" stroke="#7a1010" stroke-width="0.5"/>
<circle cx="52.8" cy="624.0" r="3.1" fill="#000"/>
<circle cx="52.1" cy="626.8" r="3.1" fill="#000"/>
<circle cx="50.9" cy="619.6" r="2.7" fill="#40ff08"/>
<circle cx="50.9" cy="623.3" r="2.7" fill="#40ff08"/>
<circle cx="51.0" cy="626.8" r="2.7" fill="#40ff08"/>
<path d="M276.2 451.4h4.9M278.6 448.9v4.9" stroke="#2222ff" stroke-width="0.9" fill="none"/>
<path d="M273.1 455.2h4.9M275.5 452.8v4.9" stroke="#2222ff" stroke-width="0.9" fill="none"/>
<path d="M264.8 479.5h4.9M267.2 477.1v4.9" stroke="#2222ff" stroke-width="0.9" fill="none"/>
<path d="M296.1 478.5h4.9M298.5 476.1v4.9" stroke="#2222ff" stroke-width="0.9" fill="none"/>
<path d="M265.4 496.1h4.9M267.8 493.7v4.9" stroke="#2222ff" stroke-width="0.9" fill="none"/>
<path d="M268.9 500.4h4.9M271.4 497.9v4.9" stroke="#2222ff" stroke-width="0.9" fill="none"/>
<path d="M287.2 496.3h4.9M289.7 493.9v4.9" stroke="#2222ff" stroke-width="0.9" fill="none"/>
<path d="M287.1 503.1h4.9M289.5 500.7v4.9" stroke="#2222ff" stroke-width="0.9" fill="none"/>
<path d="M266.9 506.6h4.9M269.3 504.2v4.9" stroke="#2222ff" stroke-width="0.9" fill="none"/>
<path d="M270.9 510.7h4.9M273.4 508.2v4.9" stroke="#2222ff" stroke-width="0.9" fill="none"/>
<path d="M280.9 505.6h4.9M283.3 503.2v4.9" stroke="#2222ff" stroke-width="0.9" fill="none"/>
<path d="M299.8 504.8h4.9M302.2 502.4v4.9" stroke="#2222ff" stroke-width="0.9" fill="none"/>
<path d="M262.2 520.5h4.9M264.6 518.0v4.9" stroke="#2222ff" stroke-width="0.9" fill="none"/>
<path d="M290.8 520.5h4.9M293.2 518.0v4.9" stroke="#2222ff" stroke-width="0.9" fill="none"/>
<path d="M285.6 525.5h4.9M288.0 523.0v4.9" stroke="#2222ff" stroke-width="0.9" fill="none"/>
<path d="M290.9 525.5h4.9M293.4 523.0v4.9" stroke="#2222ff" stroke-width="0.9" fill="none"/>
<path d="M293.4 523.8h4.9M295.8 521.3v4.9" stroke="#2222ff" stroke-width="0.9" fill="none"/>
<path d="M298.1 522.0h4.9M300.5 519.5v4.9" stroke="#2222ff" stroke-width="0.9" fill="none"/>
<path d="M300.7 521.3h4.9M303.1 518.8v4.9" stroke="#2222ff" stroke-width="0.9" fill="none"/>
<path d="M319.9 527.5h4.9M322.4 525.0v4.9" stroke="#2222ff" stroke-width="0.9" fill="none"/>
<path d="M267.2 533.6h4.9M269.6 531.1v4.9" stroke="#2222ff" stroke-width="0.9" fill="none"/>
<path d="M284.2 534.3h4.9M286.6 531.8v4.9" stroke="#2222ff" stroke-width="0.9" fill="none"/>
<path d="M312.1 544.8h4.9M314.5 542.3v4.9" stroke="#2222ff" stroke-width="0.9" fill="none"/>
<path d="M306.8 554.4h4.9M309.2 551.9v4.9" stroke="#2222ff" stroke-width="0.9" fill="none"/>
<path d="M309.1 560.6h4.9M311.5 558.1v4.9" stroke="#2222ff" stroke-width="0.9" fill="none"/>
<path d="M269.8 564.1h4.9M272.2 561.6v4.9" stroke="#2222ff" stroke-width="0.9" fill="none"/>
<path d="M273.9 567.3h4.9M276.3 564.8v4.9" stroke="#2222ff" stroke-width="0.9" fill="none"/>
<path d="M279.1 567.3h4.9M281.5 564.8v4.9" stroke="#2222ff" stroke-width="0.9" fill="none"/>
<path d="M281.4 566.7h4.9M283.9 564.2v4.9" stroke="#2222ff" stroke-width="0.9" fill="none"/>
<path d="M298.9 563.8h4.9M301.4 561.3v4.9" stroke="#2222ff" stroke-width="0.9" fill="none"/>
<path d="M301.2 566.7h4.9M303.7 564.2v4.9" stroke="#2222ff" stroke-width="0.9" fill="none"/>
<path d="M302.4 566.1h4.9M304.9 563.6v4.9" stroke="#2222ff" stroke-width="0.9" fill="none"/>
<path d="M295.2 572.3h4.9M297.6 569.8v4.9" stroke="#2222ff" stroke-width="0.9" fill="none"/>
<path d="M282.1 579.8h4.9M284.5 577.3v4.9" stroke="#2222ff" stroke-width="0.9" fill="none"/>
<path d="M291.4 584.4h4.9M293.9 581.9v4.9" stroke="#2222ff" stroke-width="0.9" fill="none"/>
<path d="M291.4 588.4h4.9M293.9 585.9v4.9" stroke="#2222ff" stroke-width="0.9" fill="none"/>
<path d="M315.2 593.0h4.9M317.6 590.5v4.9" stroke="#2222ff" stroke-width="0.9" fill="none"/>
<path d="M295.7 601.5h4.9M298.1 599.0v4.9" stroke="#2222ff" stroke-width="0.9" fill="none"/>
<path d="M289.2 607.7h4.9M291.6 605.2v4.9" stroke="#2222ff" stroke-width="0.9" fill="none"/>
<path d="M259.2 602.3h4.9M261.7 599.8v4.9" stroke="#2222ff" stroke-width="0.9" fill="none"/>
<circle cx="274.2" cy="470.1" r="2.3" stroke="#2222ff" stroke-width="1" fill="none"/>
<circle cx="285.6" cy="566.7" r="2.3" stroke="#2222ff" stroke-width="1" fill="none"/>
<circle cx="275.9" cy="572.5" r="2.3" stroke="#2222ff" stroke-width="1" fill="none"/>
<circle cx="273.7" cy="578.9" r="2.3" stroke="#2222ff" stroke-width="1" fill="none"/>
<circle cx="255.3" cy="575.4" r="2.3" stroke="#2222ff" stroke-width="1" fill="none"/>
<circle cx="258.2" cy="576.3" r="2.3" stroke="#2222ff" stroke-width="1" fill="none"/>
<circle cx="263.1" cy="575.4" r="2.3" stroke="#2222ff" stroke-width="1" fill="none"/>
<circle cx="264.4" cy="581.6" r="2.3" stroke="#2222ff" stroke-width="1" fill="none"/>
<path d="M241.4 572.4L244.0 577.0L238.8 577.0Z" fill="#1010f0" stroke="#10107a" stroke-width="0.5"/>
<path d="M217.9 581.2L220.5 585.8L215.3 585.8Z" fill="#1010f0" stroke="#10107a" stroke-width="0.5"/>
<path d="M252.4 581.2L255.0 585.8L249.8 585.8Z" fill="#1010f0" stroke="#10107a" stroke-width="0.5"/>
<path d="M253.7 592.1L256.3 596.7L251.1 596.7Z" fill="#1010f0" stroke="#10107a" stroke-width="0.5"/>
<path d="M242.2 605.4L244.8 610.0L239.6 610.0Z" fill="#1010f0" stroke="#10107a" stroke-width="0.5"/>
<path d="M233.0 607.0L235.6 611.6L230.4 611.6Z" fill="#1010f0" stroke="#10107a" stroke-width="0.5"/>
<path d="M240.7 615.6L243.3 620.2L238.1 620.2Z" fill="#1010f0" stroke="#10107a" stroke-width="0.5"/>
<path d="M225.4 619.2L228.0 623.8L222.8 623.8Z" fill="#1010f0" stroke="#10107a" stroke-width="0.5"/>
<path d="M222.3 620.7L224.9 625.3L219.7 625.3Z" fill="#1010f0" stroke="#10107a" stroke-width="0.5"/>
<path d="M219.7 622.6L222.3 627.2L217.1 627.2Z" fill="#1010f0" stroke="#10107a" stroke-width="0.5"/>
<path d="M248.4 611.0L251.0 615.6L245.8 615.6Z" fill="#1010f0" stroke="#10107a" stroke-width="0.5"/>
<path d="M254.6 592.8L257.2 597.4L252.0 597.4Z" fill="#1010f0" stroke="#10107a" stroke-width="0.5"/>
<path d="M242.2 605.2L244.8 609.8L239.6 609.8Z" fill="#1010f0" stroke="#10107a" stroke-width="0.5"/>
<path d="M265.2 602.7L267.8 607.3L262.6 607.3Z" fill="#1010f0" stroke="#10107a" stroke-width="0.5"/>
<path d="M241.1 615.5L243.7 620.1L238.5 620.1Z" fill="#1010f0" stroke="#10107a" stroke-width="0.5"/>
<path d="M194.9 586.2L198.1 589.4L194.9 592.5L191.8 589.4Z" fill="#1010f0" stroke="#10107a" stroke-width="0.5"/>
<path d="M248.5 554.7L251.1 559.3L245.9 559.3Z" fill="#1010f0" stroke="#10107a" stroke-width="0.5"/>
<path d="M291.6 569.8l5.0 5.0M291.6 574.8l5.0 -5.0" stroke="#ff2020" stroke-width="0.9" fill="none"/>
<path d="M264.4 590.5l5.0 5.0M264.4 595.5l5.0 -5.0" stroke="#ff2020" stroke-width="0.9" fill="none"/>
<path d="M272.6 590.5l5.0 5.0M272.6 595.5l5.0 -5.0" stroke="#ff2020" stroke-width="0.9" fill="none"/>
<path d="M283.5 588.9l5.0 5.0M283.5 593.9l5.0 -5.0" stroke="#ff2020" stroke-width="0.9" fill="none"/>
<path d="M305.9 587.7l5.0 5.0M305.9 592.7l5.0 -5.0" stroke="#ff2020" stroke-width="0.9" fill="none"/>
<path d="M258.9 596.9l5.0 5.0M258.9 601.9l5.0 -5.0" stroke="#ff2020" stroke-width="0.9" fill="none"/>
<path d="M270.3 597.5l5.0 5.0M270.3 602.5l5.0 -5.0" stroke="#ff2020" stroke-width="0.9" fill="none"/>
<path d="M275.5 599.2l5.0 5.0M275.5 604.2l5.0 -5.0" stroke="#ff2020" stroke-width="0.9" fill="none"/>
<path d="M284.9 595.7l5.0 5.0M284.9 600.7l5.0 -5.0" stroke="#ff2020" stroke-width="0.9" fill="none"/>
<path d="M286.6 596.9l5.0 5.0M286.6 601.9l5.0 -5.0" stroke="#ff2020" stroke-width="0.9" fill="none"/>
<path d="M293.0 596.3l5.0 5.0M293.0 601.3l5.0 -5.0" stroke="#ff2020" stroke-width="0.9" fill="none"/>
<path d="M296.3 592.8l5.0 5.0M296.3 597.8l5.0 -5.0" stroke="#ff2020" stroke-width="0.9" fill="none"/>
<path d="M303.6 596.9l5.0 5.0M303.6 601.9l5.0 -5.0" stroke="#ff2020" stroke-width="0.9" fill="none"/>
<path d="M307.1 599.2l5.0 5.0M307.1 604.2l5.0 -5.0" stroke="#ff2020" stroke-width="0.9" fill="none"/>
<path d="M300.1 601.0l5.0 5.0M300.1 606.0l5.0 -5.0" stroke="#ff2020" stroke-width="0.9" fill="none"/>
<path d="M304.7 602.1l5.0 5.0M304.7 607.1l5.0 -5.0" stroke="#ff2020" stroke-width="0.9" fill="none"/>
<path d="M317.6 599.2l5.0 5.0M317.6 604.2l5.0 -5.0" stroke="#ff2020" stroke-width="0.9" fill="none"/>
<path d="M317.0 602.1l5.0 5.0M317.0 607.1l5.0 -5.0" stroke="#ff2020" stroke-width="0.9" fill="none"/>
<path d="M282.5 602.7l5.0 5.0M282.5 607.7l5.0 -5.0" stroke="#ff2020" stroke-width="0.9" fill="none"/>
<path d="M288.4 603.9l5.0 5.0M288.4 608.9l5.0 -5.0" stroke="#ff2020" stroke-width="0.9" fill="none"/>
<path d="M311.1 606.5l5.0 5.0M311.1 611.5l5.0 -5.0" stroke="#ff2020" stroke-width="0.9" fill="none"/>
<path d="M279.0 608.8l5.0 5.0M279.0 613.8l5.0 -5.0" stroke="#ff2020" stroke-width="0.9" fill="none"/>
<path d="M287.8 608.6l5.0 5.0M287.8 613.6l5.0 -5.0" stroke="#ff2020" stroke-width="0.9" fill="none"/>
<path d="M296.5 610.3l5.0 5.0M296.5 615.3l5.0 -5.0" stroke="#ff2020" stroke-width="0.9" fill="none"/>
<path d="M267.9 606.8l5.0 5.0M267.9 611.8l5.0 -5.0" stroke="#ff2020" stroke-width="0.9" fill="none"/>
<path d="M265.0 608.0l5.0 5.0M265.0 613.0l5.0 -5.0" stroke="#ff2020" stroke-width="0.9" fill="none"/>
<path d="M259.0 597.2l5.0 5.0M259.0 602.2l5.0 -5.0" stroke="#ff2020" stroke-width="0.9" fill="none"/>
<path d="M275.5 599.1l5.0 5.0M275.5 604.1l5.0 -5.0" stroke="#ff2020" stroke-width="0.9" fill="none"/>
<path d="M282.0 602.7l5.0 5.0M282.0 607.7l5.0 -5.0" stroke="#ff2020" stroke-width="0.9" fill="none"/>
<path d="M279.8 608.9l5.0 5.0M279.8 613.9l5.0 -5.0" stroke="#ff2020" stroke-width="0.9" fill="none"/>
<path d="M267.4 607.1l5.0 5.0M267.4 612.1l5.0 -5.0" stroke="#ff2020" stroke-width="0.9" fill="none"/>
<path d="M263.8 608.2l5.0 5.0M263.8 613.2l5.0 -5.0" stroke="#ff2020" stroke-width="0.9" fill="none"/>
<path d="M256.5 611.5l5.0 5.0M256.5 616.5l5.0 -5.0" stroke="#ff2020" stroke-width="0.9" fill="none"/>
<path d="M296.4 592.8l5.0 5.0M296.4 597.8l5.0 -5.0" stroke="#ff2020" stroke-width="0.9" fill="none"/>
<path d="M293.5 596.1l5.0 5.0M293.5 601.1l5.0 -5.0" stroke="#ff2020" stroke-width="0.9" fill="none"/>
<path d="M285.1 595.7l5.0 5.0M285.1 600.7l5.0 -5.0" stroke="#ff2020" stroke-width="0.9" fill="none"/>
<path d="M302.2 600.9l5.0 5.0M302.2 605.9l5.0 -5.0" stroke="#ff2020" stroke-width="0.9" fill="none"/>
<path d="M304.4 602.7l5.0 5.0M304.4 607.7l5.0 -5.0" stroke="#ff2020" stroke-width="0.9" fill="none"/>
<path d="M318.3 599.0l5.0 5.0M318.3 604.0l5.0 -5.0" stroke="#ff2020" stroke-width="0.9" fill="none"/>
<path d="M319.0 600.9l5.0 5.0M319.0 605.9l5.0 -5.0" stroke="#ff2020" stroke-width="0.9" fill="none"/>
<path d="M311.3 606.3l5.0 5.0M311.3 611.3l5.0 -5.0" stroke="#ff2020" stroke-width="0.9" fill="none"/>
<path d="M296.7 610.7l5.0 5.0M296.7 615.7l5.0 -5.0" stroke="#ff2020" stroke-width="0.9" fill="none"/>
<path d="M283.2 602.3l5.0 5.0M283.2 607.3l5.0 -5.0" stroke="#ff2020" stroke-width="0.9" fill="none"/>
<path d="M255.0 606.7L257.6 611.3L252.4 611.3Z" fill="#f01010" stroke="#7a1010" stroke-width="0.5"/>
<path d="M254.2 607.8L256.8 612.4L251.6 612.4Z" fill="#f01010" stroke="#7a1010" stroke-width="0.5"/>
<path d="M260.8 607.4L263.4 612.0L258.2 612.0Z" fill="#f01010" stroke="#7a1010" stroke-width="0.5"/>
<path d="M263.7 603.8L266.3 608.4L261.1 608.4Z" fill="#f01010" stroke="#7a1010" stroke-width="0.5"/>
<path d="M251.0 610.7L253.6 615.3L248.4 615.3Z" fill="#f01010" stroke="#7a1010" stroke-width="0.5"/>
<path d="M243.6 612.2L246.2 616.8L241.0 616.8Z" fill="#f01010" stroke="#7a1010" stroke-width="0.5"/>
<path d="M243.8 612.1L246.4 616.7L241.2 616.7Z" fill="#f01010" stroke="#7a1010" stroke-width="0.5"/>
<path d="M250.9 610.8L253.5 615.4L248.3 615.4Z" fill="#f01010" stroke="#7a1010" stroke-width="0.5"/>
<path d="M213.3 602.1L216.5 605.3L213.3 608.4L210.2 605.3Z" fill="#f01a10" stroke="#7a1010" stroke-width="0.5"/>
<path d="M223.3 601.9L226.5 605.0L223.3 608.1L220.2 605.0Z" fill="#f01a10" stroke="#7a1010" stroke-width="0.5"/>
<path d="M224.3 602.1L227.5 605.3L224.3 608.4L221.2 605.3Z" fill="#f01a10" stroke="#7a1010" stroke-width="0.5"/>
<path d="M229.7 602.1L232.8 605.3L229.7 608.4L226.5 605.3Z" fill="#f01a10" stroke="#7a1010" stroke-width="0.5"/>
<path d="M248.7 597.6L251.8 600.7L248.7 603.9L245.5 600.7Z" fill="#f01a10" stroke="#7a1010" stroke-width="0.5"/>
<path d="M213.4 611.6L216.6 614.7L213.4 617.9L210.2 614.7Z" fill="#f01a10" stroke="#7a1010" stroke-width="0.5"/>
<path d="M222.8 609.8L226.0 612.9L222.8 616.0L219.7 612.9Z" fill="#f01a10" stroke="#7a1010" stroke-width="0.5"/>
<path d="M236.1 607.0L239.2 610.1L236.1 613.2L232.9 610.1Z" fill="#f01a10" stroke="#7a1010" stroke-width="0.5"/>
<path d="M234.6 610.8L237.8 613.9L234.6 617.0L231.4 613.9Z" fill="#f01a10" stroke="#7a1010" stroke-width="0.5"/>
<path d="M245.8 608.8L249.0 611.9L245.8 615.0L242.7 611.9Z" fill="#f01a10" stroke="#7a1010" stroke-width="0.5"/>
<path d="M202.9 617.8L206.1 620.9L202.9 624.0L199.8 620.9Z" fill="#f01a10" stroke="#7a1010" stroke-width="0.5"/>
<circle cx="259.3" cy="605.2" r="2.6" fill="#ff1a1a"/>
<circle cx="275.4" cy="607.8" r="2.6" fill="#ff1a1a"/>
<circle cx="399.7" cy="626.9" r="3.1" fill="#000"/>
<circle cx="398.0" cy="626.8" r="2.7" fill="#40ff08"/>
<path d="M620.1 451.2h4.9M622.6 448.8v4.9" stroke="#2222ff" stroke-width="0.9" fill="none"/>
<path d="M612.2 487.3h4.9M614.7 484.9v4.9" stroke="#2222ff" stroke-width="0.9" fill="none"/>
<path d="M613.9 495.2h4.9M616.4 492.8v4.9" stroke="#2222ff" stroke-width="0.9" fill="none"/>
<path d="M622.9 495.2h4.9M625.4 492.8v4.9" stroke="#2222ff" stroke-width="0.9" fill="none"/>
<path d="M609.0 500.2h4.9M611.5 497.8v4.9" stroke="#2222ff" stroke-width="0.9" fill="none"/>
<path d="M615.9 499.8h4.9M618.4 497.4v4.9" stroke="#2222ff" stroke-width="0.9" fill="none"/>
<path d="M627.8 500.2h4.9M630.2 497.8v4.9" stroke="#2222ff" stroke-width="0.9" fill="none"/>
<path d="M618.0 509.9h4.9M620.5 507.4v4.9" stroke="#2222ff" stroke-width="0.9" fill="none"/>
<path d="M614.1 512.7h4.9M616.6 510.3v4.9" stroke="#2222ff" stroke-width="0.9" fill="none"/>
<path d="M634.0 516.0h4.9M636.5 513.5v4.9" stroke="#2222ff" stroke-width="0.9" fill="none"/>
<path d="M666.8 513.9h4.9M669.3 511.4v4.9" stroke="#2222ff" stroke-width="0.9" fill="none"/>
<path d="M638.1 522.4h4.9M640.6 519.9v4.9" stroke="#2222ff" stroke-width="0.9" fill="none"/>
<path d="M643.0 520.6h4.9M645.5 518.1v4.9" stroke="#2222ff" stroke-width="0.9" fill="none"/>
<path d="M646.9 520.6h4.9M649.4 518.1v4.9" stroke="#2222ff" stroke-width="0.9" fill="none"/>
<path d="M634.0 526.1h4.9M636.5 523.6v4.9" stroke="#2222ff" stroke-width="0.9" fill="none"/>
<path d="M638.1 527.9h4.9M640.6 525.4v4.9" stroke="#2222ff" stroke-width="0.9" fill="none"/>
<path d="M611.4 528.2h4.9M613.9 525.8v4.9" stroke="#2222ff" stroke-width="0.9" fill="none"/>
<path d="M645.1 531.7h4.9M647.6 529.2v4.9" stroke="#2222ff" stroke-width="0.9" fill="none"/>
<path d="M647.8 531.0h4.9M650.3 528.5v4.9" stroke="#2222ff" stroke-width="0.9" fill="none"/>
<path d="M655.9 533.1h4.9M658.4 530.6v4.9" stroke="#2222ff" stroke-width="0.9" fill="none"/>
<path d="M658.9 537.6h4.9M661.4 535.1v4.9" stroke="#2222ff" stroke-width="0.9" fill="none"/>
<path d="M640.2 540.4h4.9M642.7 537.9v4.9" stroke="#2222ff" stroke-width="0.9" fill="none"/>
<path d="M642.3 546.4h4.9M644.8 543.9v4.9" stroke="#2222ff" stroke-width="0.9" fill="none"/>
<path d="M632.6 555.7h4.9M635.1 553.2v4.9" stroke="#2222ff" stroke-width="0.9" fill="none"/>
<path d="M649.2 558.4h4.9M651.7 555.9v4.9" stroke="#2222ff" stroke-width="0.9" fill="none"/>
<path d="M628.4 564.0h4.9M630.9 561.5v4.9" stroke="#2222ff" stroke-width="0.9" fill="none"/>
<path d="M631.2 567.4h4.9M633.7 564.9v4.9" stroke="#2222ff" stroke-width="0.9" fill="none"/>
<path d="M646.4 563.3h4.9M648.9 560.8v4.9" stroke="#2222ff" stroke-width="0.9" fill="none"/>
<path d="M647.8 565.4h4.9M650.3 562.9v4.9" stroke="#2222ff" stroke-width="0.9" fill="none"/>
<path d="M620.8 566.8h4.9M623.3 564.3v4.9" stroke="#2222ff" stroke-width="0.9" fill="none"/>
<path d="M605.5 585.2h4.9M608.0 582.8v4.9" stroke="#2222ff" stroke-width="0.9" fill="none"/>
<path d="M629.1 585.5h4.9M631.6 583.0v4.9" stroke="#2222ff" stroke-width="0.9" fill="none"/>
<path d="M636.0 591.0h4.9M638.5 588.5v4.9" stroke="#2222ff" stroke-width="0.9" fill="none"/>
<path d="M642.3 591.0h4.9M644.8 588.5v4.9" stroke="#2222ff" stroke-width="0.9" fill="none"/>
<path d="M661.8 577.2h4.9M664.2 574.8v4.9" stroke="#2222ff" stroke-width="0.9" fill="none"/>
<path d="M653.4 584.8h4.9M655.9 582.3v4.9" stroke="#2222ff" stroke-width="0.9" fill="none"/>
<path d="M626.3 594.5h4.9M628.8 592.0v4.9" stroke="#2222ff" stroke-width="0.9" fill="none"/>
<path d="M605.5 585.1h4.9M608.0 582.6v4.9" stroke="#2222ff" stroke-width="0.9" fill="none"/>
<path d="M628.3 585.3h4.9M630.8 582.8v4.9" stroke="#2222ff" stroke-width="0.9" fill="none"/>
<path d="M626.1 593.6h4.9M628.6 591.1v4.9" stroke="#2222ff" stroke-width="0.9" fill="none"/>
<path d="M616.0 600.1h4.9M618.5 597.6v4.9" stroke="#2222ff" stroke-width="0.9" fill="none"/>
<path d="M636.2 590.9h4.9M638.7 588.4v4.9" stroke="#2222ff" stroke-width="0.9" fill="none"/>
<path d="M629.1 564.8h4.9M631.6 562.3v4.9" stroke="#2222ff" stroke-width="0.9" fill="none"/>
<path d="M631.1 567.2h4.9M633.6 564.8v4.9" stroke="#2222ff" stroke-width="0.9" fill="none"/>
<path d="M648.0 565.2h4.9M650.5 562.8v4.9" stroke="#2222ff" stroke-width="0.9" fill="none"/>
<path d="M661.2 577.3h4.9M663.7 574.8v4.9" stroke="#2222ff" stroke-width="0.9" fill="none"/>
<path d="M637.5 590.9h4.9M640.0 588.4v4.9" stroke="#2222ff" stroke-width="0.9" fill="none"/>
<path d="M639.1 590.9h4.9M641.6 588.4v4.9" stroke="#2222ff" stroke-width="0.9" fill="none"/>
<path d="M643.2 591.3h4.9M645.7 588.8v4.9" stroke="#2222ff" stroke-width="0.9" fill="none"/>
<path d="M654.0 584.9h4.9M656.5 582.4v4.9" stroke="#2222ff" stroke-width="0.9" fill="none"/>
<circle cx="621.2" cy="567.7" r="2.3" stroke="#2222ff" stroke-width="1" fill="none"/>
<circle cx="640.6" cy="584.8" r="2.3" stroke="#2222ff" stroke-width="1" fill="none"/>
<circle cx="610.8" cy="595.9" r="2.3" stroke="#2222ff" stroke-width="1" fill="none"/>
<circle cx="620.5" cy="593.8" r="2.3" stroke="#2222ff" stroke-width="1" fill="none"/>
<circle cx="633.0" cy="598.0" r="2.3" stroke="#2222ff" stroke-width="1" fill="none"/>
<circle cx="611.1" cy="595.8" r="2.3" stroke="#2222ff" stroke-width="1" fill="none"/>
<circle cx="620.3" cy="593.6" r="2.3" stroke="#2222ff" stroke-width="1" fill="none"/>
<circle cx="632.5" cy="599.3" r="2.3" stroke="#2222ff" stroke-width="1" fill="none"/>
<circle cx="622.9" cy="608.0" r="2.3" stroke="#2222ff" stroke-width="1" fill="none"/>
<circle cx="605.0" cy="611.5" r="2.3" stroke="#2222ff" stroke-width="1" fill="none"/>
<circle cx="640.4" cy="584.9" r="2.3" stroke="#2222ff" stroke-width="1" fill="none"/>
<path d="M601.5 612.1L604.1 616.7L598.9 616.7Z" fill="#1010f0" stroke="#10107a" stroke-width="0.5"/>
<path d="M595.3 612.1L597.9 616.7L592.7 616.7Z" fill="#1010f0" stroke="#10107a" stroke-width="0.5"/>
<path d="M588.3 612.6L590.9 617.2L585.7 617.2Z" fill="#1010f0" stroke="#10107a" stroke-width="0.5"/>
<path d="M587.9 618.7L590.5 623.3L585.3 623.3Z" fill="#1010f0" stroke="#10107a" stroke-width="0.5"/>
<path d="M611.5 611.7L614.1 616.3L608.9 616.3Z" fill="#1010f0" stroke="#10107a" stroke-width="0.5"/>
<path d="M564.7 620.7L567.3 625.3L562.1 625.3Z" fill="#1010f0" stroke="#10107a" stroke-width="0.5"/>
<path d="M566.8 622.8L569.4 627.4L564.2 627.4Z" fill="#1010f0" stroke="#10107a" stroke-width="0.5"/>
<path d="M568.8 623.3L571.4 627.9L566.2 627.9Z" fill="#1010f0" stroke="#10107a" stroke-width="0.5"/>
<path d="M572.4 623.6L575.0 628.2L569.8 628.2Z" fill="#1010f0" stroke="#10107a" stroke-width="0.5"/>
<path d="M580.3 621.2L582.9 625.8L577.7 625.8Z" fill="#1010f0" stroke="#10107a" stroke-width="0.5"/>
<path d="M588.2 612.5L590.8 617.1L585.6 617.1Z" fill="#1010f0" stroke="#10107a" stroke-width="0.5"/>
<path d="M588.8 616.6L591.4 621.2L586.2 621.2Z" fill="#1010f0" stroke="#10107a" stroke-width="0.5"/>
<path d="M587.2 619.2L589.8 623.8L584.6 623.8Z" fill="#1010f0" stroke="#10107a" stroke-width="0.5"/>
<path d="M594.9 622.8L597.5 627.4L592.3 627.4Z" fill="#1010f0" stroke="#10107a" stroke-width="0.5"/>
<path d="M595.4 612.0L598.0 616.6L592.8 616.6Z" fill="#1010f0" stroke="#10107a" stroke-width="0.5"/>
<path d="M542.0 621.6L545.1 624.8L542.0 627.9L538.9 624.8Z" fill="#1010f0" stroke="#10107a" stroke-width="0.5"/>
<path d="M638.5 563.8l5.0 5.0M638.5 568.8l5.0 -5.0" stroke="#ff2020" stroke-width="0.9" fill="none"/>
<path d="M652.7 568.0l5.0 5.0M652.7 573.0l5.0 -5.0" stroke="#ff2020" stroke-width="0.9" fill="none"/>
<path d="M665.2 574.0l5.0 5.0M665.2 579.0l5.0 -5.0" stroke="#ff2020" stroke-width="0.9" fill="none"/>
<path d="M663.1 575.4l5.0 5.0M663.1 580.4l5.0 -5.0" stroke="#ff2020" stroke-width="0.9" fill="none"/>
<path d="M631.9 582.3l5.0 5.0M631.9 587.3l5.0 -5.0" stroke="#ff2020" stroke-width="0.9" fill="none"/>
<path d="M634.7 583.0l5.0 5.0M634.7 588.0l5.0 -5.0" stroke="#ff2020" stroke-width="0.9" fill="none"/>
<path d="M641.6 582.3l5.0 5.0M641.6 587.3l5.0 -5.0" stroke="#ff2020" stroke-width="0.9" fill="none"/>
<path d="M651.3 577.4l5.0 5.0M651.3 582.4l5.0 -5.0" stroke="#ff2020" stroke-width="0.9" fill="none"/>
<path d="M654.1 580.9l5.0 5.0M654.1 585.9l5.0 -5.0" stroke="#ff2020" stroke-width="0.9" fill="none"/>
<path d="M644.4 585.1l5.0 5.0M644.4 590.1l5.0 -5.0" stroke="#ff2020" stroke-width="0.9" fill="none"/>
<path d="M648.5 585.8l5.0 5.0M648.5 590.8l5.0 -5.0" stroke="#ff2020" stroke-width="0.9" fill="none"/>
<path d="M658.2 587.8l5.0 5.0M658.2 592.8l5.0 -5.0" stroke="#ff2020" stroke-width="0.9" fill="none"/>
<path d="M665.2 589.2l5.0 5.0M665.2 594.2l5.0 -5.0" stroke="#ff2020" stroke-width="0.9" fill="none"/>
<path d="M631.2 588.5l5.0 5.0M631.2 593.5l5.0 -5.0" stroke="#ff2020" stroke-width="0.9" fill="none"/>
<path d="M611.8 592.7l5.0 5.0M611.8 597.7l5.0 -5.0" stroke="#ff2020" stroke-width="0.9" fill="none"/>
<path d="M620.1 593.4l5.0 5.0M620.1 598.4l5.0 -5.0" stroke="#ff2020" stroke-width="0.9" fill="none"/>
<path d="M623.6 595.5l5.0 5.0M623.6 600.5l5.0 -5.0" stroke="#ff2020" stroke-width="0.9" fill="none"/>
<path d="M629.1 592.7l5.0 5.0M629.1 597.7l5.0 -5.0" stroke="#ff2020" stroke-width="0.9" fill="none"/>
<path d="M612.5 592.4l5.0 5.0M612.5 597.4l5.0 -5.0" stroke="#ff2020" stroke-width="0.9" fill="none"/>
<path d="M616.9 591.9l5.0 5.0M616.9 596.9l5.0 -5.0" stroke="#ff2020" stroke-width="0.9" fill="none"/>
<path d="M620.4 593.7l5.0 5.0M620.4 598.7l5.0 -5.0" stroke="#ff2020" stroke-width="0.9" fill="none"/>
<path d="M623.0 595.0l5.0 5.0M623.0 600.0l5.0 -5.0" stroke="#ff2020" stroke-width="0.9" fill="none"/>
<path d="M630.0 588.9l5.0 5.0M630.0 593.9l5.0 -5.0" stroke="#ff2020" stroke-width="0.9" fill="none"/>
<path d="M632.7 583.6l5.0 5.0M632.7 588.6l5.0 -5.0" stroke="#ff2020" stroke-width="0.9" fill="none"/>
<path d="M634.4 581.9l5.0 5.0M634.4 586.9l5.0 -5.0" stroke="#ff2020" stroke-width="0.9" fill="none"/>
<path d="M635.3 599.4l5.0 5.0M635.3 604.4l5.0 -5.0" stroke="#ff2020" stroke-width="0.9" fill="none"/>
<path d="M614.3 602.9l5.0 5.0M614.3 607.9l5.0 -5.0" stroke="#ff2020" stroke-width="0.9" fill="none"/>
<path d="M611.2 606.0l5.0 5.0M611.2 611.0l5.0 -5.0" stroke="#ff2020" stroke-width="0.9" fill="none"/>
<path d="M606.8 602.5l5.0 5.0M606.8 607.5l5.0 -5.0" stroke="#ff2020" stroke-width="0.9" fill="none"/>
<path d="M607.7 603.8l5.0 5.0M607.7 608.8l5.0 -5.0" stroke="#ff2020" stroke-width="0.9" fill="none"/>
<path d="M602.0 606.4l5.0 5.0M602.0 611.4l5.0 -5.0" stroke="#ff2020" stroke-width="0.9" fill="none"/>
<path d="M646.8 584.8l5.0 5.0M646.8 589.8l5.0 -5.0" stroke="#ff2020" stroke-width="0.9" fill="none"/>
<path d="M649.2 585.6l5.0 5.0M649.2 590.6l5.0 -5.0" stroke="#ff2020" stroke-width="0.9" fill="none"/>
<path d="M641.2 582.0l5.0 5.0M641.2 587.0l5.0 -5.0" stroke="#ff2020" stroke-width="0.9" fill="none"/>
<path d="M629.1 592.8l5.0 5.0M629.1 597.8l5.0 -5.0" stroke="#ff2020" stroke-width="0.9" fill="none"/>
<circle cx="622.5" cy="601.5" r="2.3" stroke="#ff2020" stroke-width="1" fill="none"/>
<path d="M610.2 609.5L612.8 614.1L607.6 614.1Z" fill="#f01010" stroke="#7a1010" stroke-width="0.5"/>
<path d="M607.6 615.6L610.2 620.2L605.0 620.2Z" fill="#f01010" stroke="#7a1010" stroke-width="0.5"/>
<path d="M601.0 615.6L603.6 620.2L598.4 620.2Z" fill="#f01010" stroke="#7a1010" stroke-width="0.5"/>
<path d="M598.0 615.6L600.6 620.2L595.4 620.2Z" fill="#f01010" stroke="#7a1010" stroke-width="0.5"/>
<path d="M591.8 618.3L594.4 622.9L589.2 622.9Z" fill="#f01010" stroke="#7a1010" stroke-width="0.5"/>
<path d="M603.2 611.7L605.8 616.3L600.6 616.3Z" fill="#f01010" stroke="#7a1010" stroke-width="0.5"/>
<path d="M591.3 618.7L593.9 623.3L588.7 623.3Z" fill="#f01010" stroke="#7a1010" stroke-width="0.5"/>
<path d="M598.0 616.1L600.6 620.7L595.4 620.7Z" fill="#f01010" stroke="#7a1010" stroke-width="0.5"/>
<path d="M549.7 620.0L552.9 623.1L549.7 626.2L546.6 623.1Z" fill="#f01a10" stroke="#7a1010" stroke-width="0.5"/>
<path d="M560.5 616.1L563.6 619.3L560.5 622.4L557.4 619.3Z" fill="#f01a10" stroke="#7a1010" stroke-width="0.5"/>
<path d="M571.4 608.8L574.5 611.9L571.4 615.0L568.2 611.9Z" fill="#f01a10" stroke="#7a1010" stroke-width="0.5"/>
<path d="M569.9 613.9L573.0 617.0L569.9 620.1L566.8 617.0Z" fill="#f01a10" stroke="#7a1010" stroke-width="0.5"/>
<path d="M576.8 612.2L579.9 615.4L576.8 618.5L573.6 615.4Z" fill="#f01a10" stroke="#7a1010" stroke-width="0.5"/>
<path d="M582.6 615.9L585.8 619.0L582.6 622.1L579.5 619.0Z" fill="#f01a10" stroke="#7a1010" stroke-width="0.5"/>
<path d="M582.1 616.9L585.2 620.0L582.1 623.1L579.0 620.0Z" fill="#f01a10" stroke="#7a1010" stroke-width="0.5"/>
<path d="M595.9 602.4L599.0 605.5L595.9 608.6L592.8 605.5Z" fill="#f01a10" stroke="#7a1010" stroke-width="0.5"/>
<path d="M592.5 611.2L595.6 614.4L592.5 617.5L589.4 614.4Z" fill="#f01a10" stroke="#7a1010" stroke-width="0.5"/>
<path d="M595.8 602.5L598.9 605.6L595.8 608.8L592.6 605.6Z" fill="#f01a10" stroke="#7a1010" stroke-width="0.5"/>
<path d="M593.1 611.5L596.2 614.6L593.1 617.8L590.0 614.6Z" fill="#f01a10" stroke="#7a1010" stroke-width="0.5"/>
<path d="M582.6 615.9L585.8 619.0L582.6 622.1L579.5 619.0Z" fill="#f01a10" stroke="#7a1010" stroke-width="0.5"/>
<circle cx="52.3" cy="847.7" r="3.1" fill="#000"/>
<circle cx="51.2" cy="848.1" r="2.7" fill="#40ff08"/>
<path d="M269.9 737.9h4.9M272.3 735.4v4.9" stroke="#2222ff" stroke-width="0.9" fill="none"/>
<path d="M268.4 754.2h4.9M270.8 751.8v4.9" stroke="#2222ff" stroke-width="0.9" fill="none"/>
<path d="M266.9 757.8h4.9M269.3 755.3v4.9" stroke="#2222ff" stroke-width="0.9" fill="none"/>
<path d="M266.9 761.9h4.9M269.3 759.4v4.9" stroke="#2222ff" stroke-width="0.9" fill="none"/>
<path d="M274.9 775.7h4.9M277.4 773.2v4.9" stroke="#2222ff" stroke-width="0.9" fill="none"/>
<path d="M264.8 783.4h4.9M267.2 780.9v4.9" stroke="#2222ff" stroke-width="0.9" fill="none"/>
<path d="M273.9 765.0h4.9M276.4 762.5v4.9" stroke="#2222ff" stroke-width="0.9" fill="none"/>
<path d="M275.9 775.4h4.9M278.4 772.9v4.9" stroke="#2222ff" stroke-width="0.9" fill="none"/>
<path d="M265.7 757.0h4.9M268.1 754.5v4.9" stroke="#2222ff" stroke-width="0.9" fill="none"/>
<path d="M273.6 758.0h4.9M276.0 755.5v4.9" stroke="#2222ff" stroke-width="0.9" fill="none"/>
<path d="M301.4 758.1h4.9M303.9 755.6v4.9" stroke="#2222ff" stroke-width="0.9" fill="none"/>
<path d="M278.9 765.7h4.9M281.4 763.2v4.9" stroke="#2222ff" stroke-width="0.9" fill="none"/>
<path d="M281.8 767.7h4.9M284.2 765.2v4.9" stroke="#2222ff" stroke-width="0.9" fill="none"/>
<path d="M287.1 765.7h4.9M289.5 763.2v4.9" stroke="#2222ff" stroke-width="0.9" fill="none"/>
<path d="M290.2 766.5h4.9M292.7 764.0v4.9" stroke="#2222ff" stroke-width="0.9" fill="none"/>
<path d="M291.9 771.7h4.9M294.3 769.2v4.9" stroke="#2222ff" stroke-width="0.9" fill="none"/>
<path d="M294.2 771.3h4.9M296.7 768.8v4.9" stroke="#2222ff" stroke-width="0.9" fill="none"/>
<path d="M297.4 772.5h4.9M299.9 770.0v4.9" stroke="#2222ff" stroke-width="0.9" fill="none"/>
<path d="M275.8 775.7h4.9M278.2 773.2v4.9" stroke="#2222ff" stroke-width="0.9" fill="none"/>
<path d="M281.4 773.7h4.9M283.8 771.2v4.9" stroke="#2222ff" stroke-width="0.9" fill="none"/>
<path d="M286.2 772.9h4.9M288.7 770.4v4.9" stroke="#2222ff" stroke-width="0.9" fill="none"/>
<path d="M287.1 774.9h4.9M289.5 772.4v4.9" stroke="#2222ff" stroke-width="0.9" fill="none"/>
<path d="M295.1 776.1h4.9M297.5 773.6v4.9" stroke="#2222ff" stroke-width="0.9" fill="none"/>
<path d="M300.2 777.8h4.9M302.7 775.3v4.9" stroke="#2222ff" stroke-width="0.9" fill="none"/>
<path d="M302.2 781.8h4.9M304.7 779.3v4.9" stroke="#2222ff" stroke-width="0.9" fill="none"/>
<path d="M306.7 784.6h4.9M309.1 782.1v4.9" stroke="#2222ff" stroke-width="0.9" fill="none"/>
<path d="M309.6 777.3h4.9M312.0 774.8v4.9" stroke="#2222ff" stroke-width="0.9" fill="none"/>
<path d="M312.8 777.0h4.9M315.2 774.5v4.9" stroke="#2222ff" stroke-width="0.9" fill="none"/>
<path d="M315.2 778.2h4.9M317.6 775.8v4.9" stroke="#2222ff" stroke-width="0.9" fill="none"/>
<path d="M320.4 786.4h4.9M322.8 783.9v4.9" stroke="#2222ff" stroke-width="0.9" fill="none"/>
<path d="M274.2 757.7h4.9M276.6 755.2v4.9" stroke="#2222ff" stroke-width="0.9" fill="none"/>
<circle cx="255.5" cy="744.5" r="2.3" stroke="#2222ff" stroke-width="1" fill="none"/>
<circle cx="258.0" cy="746.4" r="2.3" stroke="#2222ff" stroke-width="1" fill="none"/>
<circle cx="262.6" cy="753.7" r="2.3" stroke="#2222ff" stroke-width="1" fill="none"/>
<circle cx="264.2" cy="767.8" r="2.3" stroke="#2222ff" stroke-width="1" fill="none"/>
<circle cx="273.4" cy="772.6" r="2.3" stroke="#2222ff" stroke-width="1" fill="none"/>
<circle cx="274.4" cy="789.0" r="2.3" stroke="#2222ff" stroke-width="1" fill="none"/>
<circle cx="275.8" cy="764.0" r="2.3" stroke="#2222ff" stroke-width="1" fill="none"/>
<circle cx="284.7" cy="779.3" r="2.3" stroke="#2222ff" stroke-width="1" fill="none"/>
<circle cx="256.3" cy="743.9" r="2.3" stroke="#2222ff" stroke-width="1" fill="none"/>
<circle cx="262.9" cy="754.1" r="2.3" stroke="#2222ff" stroke-width="1" fill="none"/>
<path d="M225.1 755.7L227.7 760.3L222.5 760.3Z" fill="#1010f0" stroke="#10107a" stroke-width="0.5"/>
<path d="M219.4 761.2L222.0 765.8L216.8 765.8Z" fill="#1010f0" stroke="#10107a" stroke-width="0.5"/>
<path d="M221.4 765.3L224.0 769.9L218.8 769.9Z" fill="#1010f0" stroke="#10107a" stroke-width="0.5"/>
<path d="M218.2 773.1L220.8 777.7L215.6 777.7Z" fill="#1010f0" stroke="#10107a" stroke-width="0.5"/>
<path d="M242.0 768.0L244.6 772.6L239.4 772.6Z" fill="#1010f0" stroke="#10107a" stroke-width="0.5"/>
<path d="M233.5 778.0L236.1 782.6L230.9 782.6Z" fill="#1010f0" stroke="#10107a" stroke-width="0.5"/>
<path d="M247.9 777.2L250.5 781.8L245.3 781.8Z" fill="#1010f0" stroke="#10107a" stroke-width="0.5"/>
<path d="M252.6 778.0L255.2 782.6L250.0 782.6Z" fill="#1010f0" stroke="#10107a" stroke-width="0.5"/>
<path d="M254.3 778.9L256.9 783.5L251.7 783.5Z" fill="#1010f0" stroke="#10107a" stroke-width="0.5"/>
<path d="M264.7 761.0L267.3 765.6L262.1 765.6Z" fill="#1010f0" stroke="#10107a" stroke-width="0.5"/>
<path d="M240.6 785.7L243.2 790.3L238.0 790.3Z" fill="#1010f0" stroke="#10107a" stroke-width="0.5"/>
<path d="M248.5 787.7L251.1 792.3L245.9 792.3Z" fill="#1010f0" stroke="#10107a" stroke-width="0.5"/>
<path d="M194.9 711.5L198.1 714.6L194.9 717.8L191.8 714.6Z" fill="#1010f0" stroke="#10107a" stroke-width="0.5"/>
<path d="M256.4 720.7l5.0 5.0M256.4 725.7l5.0 -5.0" stroke="#ff2020" stroke-width="0.9" fill="none"/>
<path d="M259.4 723.7l5.0 5.0M259.4 728.7l5.0 -5.0" stroke="#ff2020" stroke-width="0.9" fill="none"/>
<path d="M258.7 730.6l5.0 5.0M258.7 735.6l5.0 -5.0" stroke="#ff2020" stroke-width="0.9" fill="none"/>
<path d="M261.7 730.2l5.0 5.0M261.7 735.2l5.0 -5.0" stroke="#ff2020" stroke-width="0.9" fill="none"/>
<path d="M264.3 729.6l5.0 5.0M264.3 734.6l5.0 -5.0" stroke="#ff2020" stroke-width="0.9" fill="none"/>
<path d="M264.3 734.2l5.0 5.0M264.3 739.2l5.0 -5.0" stroke="#ff2020" stroke-width="0.9" fill="none"/>
<path d="M270.2 738.5l5.0 5.0M270.2 743.5l5.0 -5.0" stroke="#ff2020" stroke-width="0.9" fill="none"/>
<path d="M267.9 740.4l5.0 5.0M267.9 745.4l5.0 -5.0" stroke="#ff2020" stroke-width="0.9" fill="none"/>
<path d="M272.9 745.0l5.0 5.0M272.9 750.0l5.0 -5.0" stroke="#ff2020" stroke-width="0.9" fill="none"/>
<path d="M275.2 746.7l5.0 5.0M275.2 751.7l5.0 -5.0" stroke="#ff2020" stroke-width="0.9" fill="none"/>
<path d="M280.8 749.6l5.0 5.0M280.8 754.6l5.0 -5.0" stroke="#ff2020" stroke-width="0.9" fill="none"/>
<path d="M284.7 748.6l5.0 5.0M284.7 753.6l5.0 -5.0" stroke="#ff2020" stroke-width="0.9" fill="none"/>
<path d="M284.0 751.3l5.0 5.0M284.0 756.3l5.0 -5.0" stroke="#ff2020" stroke-width="0.9" fill="none"/>
<path d="M287.3 751.9l5.0 5.0M287.3 756.9l5.0 -5.0" stroke="#ff2020" stroke-width="0.9" fill="none"/>
<path d="M289.3 753.6l5.0 5.0M289.3 758.6l5.0 -5.0" stroke="#ff2020" stroke-width="0.9" fill="none"/>
<path d="M291.9 754.6l5.0 5.0M291.9 759.6l5.0 -5.0" stroke="#ff2020" stroke-width="0.9" fill="none"/>
<path d="M294.6 755.2l5.0 5.0M294.6 760.2l5.0 -5.0" stroke="#ff2020" stroke-width="0.9" fill="none"/>
<path d="M274.9 746.3l5.0 5.0M274.9 751.3l5.0 -5.0" stroke="#ff2020" stroke-width="0.9" fill="none"/>
<path d="M280.5 749.5l5.0 5.0M280.5 754.5l5.0 -5.0" stroke="#ff2020" stroke-width="0.9" fill="none"/>
<path d="M286.2 751.2l5.0 5.0M286.2 756.2l5.0 -5.0" stroke="#ff2020" stroke-width="0.9" fill="none"/>
<path d="M288.6 752.8l5.0 5.0M288.6 757.8l5.0 -5.0" stroke="#ff2020" stroke-width="0.9" fill="none"/>
<path d="M291.0 754.4l5.0 5.0M291.0 759.4l5.0 -5.0" stroke="#ff2020" stroke-width="0.9" fill="none"/>
<path d="M294.2 755.2l5.0 5.0M294.2 760.2l5.0 -5.0" stroke="#ff2020" stroke-width="0.9" fill="none"/>
<path d="M296.6 756.0l5.0 5.0M296.6 761.0l5.0 -5.0" stroke="#ff2020" stroke-width="0.9" fill="none"/>
<path d="M299.0 758.4l5.0 5.0M299.0 763.4l5.0 -5.0" stroke="#ff2020" stroke-width="0.9" fill="none"/>
<path d="M305.4 761.2l5.0 5.0M305.4 766.2l5.0 -5.0" stroke="#ff2020" stroke-width="0.9" fill="none"/>
<path d="M307.0 763.2l5.0 5.0M307.0 768.2l5.0 -5.0" stroke="#ff2020" stroke-width="0.9" fill="none"/>
<path d="M303.0 764.8l5.0 5.0M303.0 769.8l5.0 -5.0" stroke="#ff2020" stroke-width="0.9" fill="none"/>
<path d="M304.6 774.0l5.0 5.0M304.6 779.0l5.0 -5.0" stroke="#ff2020" stroke-width="0.9" fill="none"/>
<path d="M311.1 779.3l5.0 5.0M311.1 784.3l5.0 -5.0" stroke="#ff2020" stroke-width="0.9" fill="none"/>
<path d="M317.5 772.8l5.0 5.0M317.5 777.8l5.0 -5.0" stroke="#ff2020" stroke-width="0.9" fill="none"/>
<path d="M319.1 778.5l5.0 5.0M319.1 783.5l5.0 -5.0" stroke="#ff2020" stroke-width="0.9" fill="none"/>
<circle cx="258.9" cy="735.7" r="2.3" stroke="#ff2020" stroke-width="1" fill="none"/>
<circle cx="275.4" cy="758.4" r="2.3" stroke="#ff2020" stroke-width="1" fill="none"/>
<path d="M244.0 724.9L246.6 729.5L241.4 729.5Z" fill="#f01010" stroke="#7a1010" stroke-width="0.5"/>
<path d="M244.7 740.4L247.3 745.0L242.1 745.0Z" fill="#f01010" stroke="#7a1010" stroke-width="0.5"/>
<path d="M250.7 738.4L253.3 743.0L248.1 743.0Z" fill="#f01010" stroke="#7a1010" stroke-width="0.5"/>
<path d="M260.9 743.5L263.5 748.1L258.3 748.1Z" fill="#f01010" stroke="#7a1010" stroke-width="0.5"/>
<path d="M254.8 746.2L257.4 750.8L252.2 750.8Z" fill="#f01010" stroke="#7a1010" stroke-width="0.5"/>
<path d="M254.1 751.8L256.7 756.4L251.5 756.4Z" fill="#f01010" stroke="#7a1010" stroke-width="0.5"/>
<path d="M256.2 755.7L258.8 760.3L253.6 760.3Z" fill="#f01010" stroke="#7a1010" stroke-width="0.5"/>
<path d="M263.1 752.1L265.7 756.7L260.5 756.7Z" fill="#f01010" stroke="#7a1010" stroke-width="0.5"/>
<path d="M202.9 672.1L206.1 675.2L202.9 678.4L199.8 675.2Z" fill="#f01a10" stroke="#7a1010" stroke-width="0.5"/>
<path d="M213.3 670.1L216.5 673.2L213.3 676.4L210.2 673.2Z" fill="#f01a10" stroke="#7a1010" stroke-width="0.5"/>
<path d="M224.5 682.6L227.7 685.7L224.5 688.9L221.3 685.7Z" fill="#f01a10" stroke="#7a1010" stroke-width="0.5"/>
<path d="M213.5 698.1L216.7 701.2L213.5 704.4L210.3 701.2Z" fill="#f01a10" stroke="#7a1010" stroke-width="0.5"/>
<path d="M222.7 696.9L225.8 700.0L222.7 703.1L219.5 700.0Z" fill="#f01a10" stroke="#7a1010" stroke-width="0.5"/>
<path d="M223.3 711.5L226.5 714.6L223.3 717.8L220.2 714.6Z" fill="#f01a10" stroke="#7a1010" stroke-width="0.5"/>
<path d="M236.2 710.6L239.3 713.7L236.2 716.9L233.0 713.7Z" fill="#f01a10" stroke="#7a1010" stroke-width="0.5"/>
<path d="M245.5 712.4L248.7 715.5L245.5 718.6L242.3 715.5Z" fill="#f01a10" stroke="#7a1010" stroke-width="0.5"/>
<path d="M248.7 717.4L251.8 720.5L248.7 723.6L245.5 720.5Z" fill="#f01a10" stroke="#7a1010" stroke-width="0.5"/>
<path d="M229.4 728.0L232.6 731.1L229.4 734.2L226.2 731.1Z" fill="#f01a10" stroke="#7a1010" stroke-width="0.5"/>
<path d="M234.9 731.2L238.1 734.4L234.9 737.5L231.8 734.4Z" fill="#f01a10" stroke="#7a1010" stroke-width="0.5"/>
<rect x="344.3" y="671.2" width="337.7" height="201.1" rx="3" fill="#fff" stroke="#d4d4d4" stroke-width="1.2"/>
<path d="M360.9 682.6h4.9M363.4 680.1v4.9" stroke="#2222ff" stroke-width="0.9" fill="none"/>
<text x="388.4" y="686.5" font-size="13.95">Normal deep-sea Australasian microtekites</text>
<circle cx="363.4" cy="702.3" r="2.3" stroke="#2222ff" stroke-width="1" fill="none"/>
<text x="388.4" y="706.2" font-size="13.95">Intermediate deep-sea Australasian microtekites</text>
<path d="M363.4 720.0L366.0 724.6L360.8 724.6Z" fill="#1010f0" stroke="#10107a" stroke-width="0.5"/>
<text x="388.4" y="726.0" font-size="13.95">High Mg deep-sea Australasian microtekites</text>
<path d="M363.4 738.6L366.5 741.8L363.4 744.9L360.2 741.8Z" fill="#1010f0" stroke="#10107a" stroke-width="0.5"/>
<text x="388.4" y="745.7" font-size="13.95">High Al deep-sea Australasian microtekites</text>
<path d="M360.9 759.0l5.0 5.0M360.9 764.0l5.0 -5.0" stroke="#ff2020" stroke-width="0.9" fill="none"/>
<text x="388.4" y="765.4" font-size="13.95">Normal Transantarctic Mountain microtektites</text>
<circle cx="363.4" cy="781.2" r="2.3" stroke="#ff2020" stroke-width="1" fill="none"/>
<text x="388.4" y="785.1" font-size="13.95">Intermediate Transantarctic Mountain microtektites</text>
<path d="M363.4 798.9L366.0 803.5L360.8 803.5Z" fill="#f01010" stroke="#7a1010" stroke-width="0.5"/>
<text x="388.4" y="804.9" font-size="13.95">High Mg Transantarctic Mountain microtektites</text>
<path d="M363.4 817.6L366.5 820.7L363.4 823.9L360.2 820.7Z" fill="#f01a10" stroke="#7a1010" stroke-width="0.5"/>
<text x="388.4" y="824.6" font-size="13.95">High Al Transantarctic Mountain microtektites</text>
<circle cx="363.4" cy="840.4" r="3.1" fill="#000"/>
<text x="388.4" y="844.3" font-size="13.95">PGZ01-2 &amp; -3</text>
<circle cx="363.4" cy="860.2" r="2.7" fill="#40ff08"/>
<text x="388.4" y="864.1" font-size="13.95">PGZ01-1</text>
</svg>
</body></html>
